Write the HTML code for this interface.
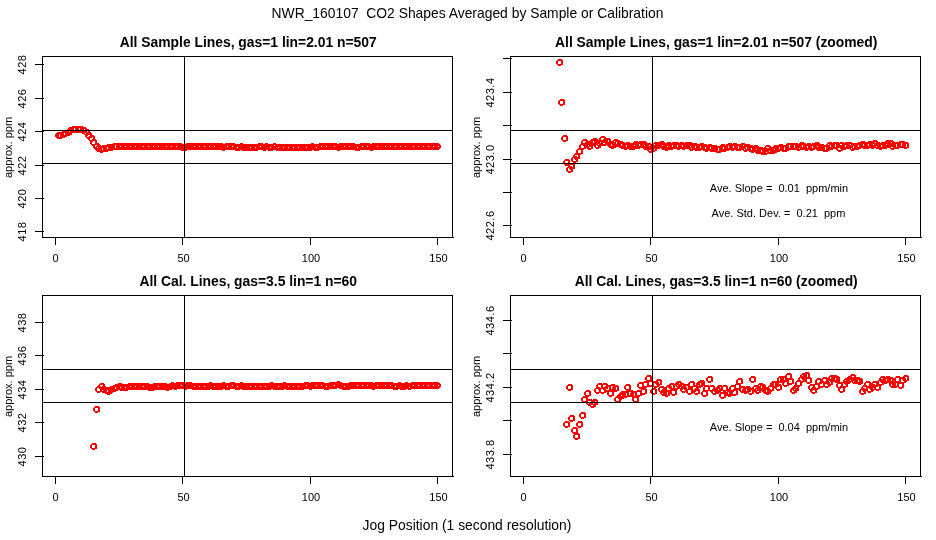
<!DOCTYPE html>
<html><head><meta charset="utf-8"><title>CO2 Shapes</title>
<style>
html,body{margin:0;padding:0;background:#fff;}
body{width:936px;height:540px;overflow:hidden;font-family:"Liberation Sans",sans-serif;}
svg{display:block;will-change:transform;}
text{font-family:"Liberation Sans",sans-serif;fill:#000;}
.ax{font-size:11px;}
.ti{font-size:13.86px;font-weight:bold;}
.mt{font-size:13.87px;}
.ry{letter-spacing:0.5px;}
.ln{shape-rendering:crispEdges;}
.pt{shape-rendering:crispEdges;}
</style></head><body>
<svg width="936" height="540" viewBox="0 0 936 540">
<rect width="936" height="540" fill="#fff"/>
<path class="pt" fill="#f00" d="M57 132h4v1h-4zm-1 1h6v1h-6zm-1 1h2v3h-2zm5 0h2v3h-2zm-4 3h6v1h-6zm1 1h3v1h-3zM59 132h4v1h-4zm-1 1h6v1h-6zm-1 1h2v3h-2zm5 0h2v3h-2zm-4 3h6v1h-6zm1 1h3v1h-3zM62 131h4v1h-4zm-1 1h6v1h-6zm-1 1h2v3h-2zm5 0h2v3h-2zm-4 3h6v1h-6zm1 1h3v1h-3zM64 130h4v1h-4zm-1 1h6v1h-6zm-1 1h2v3h-2zm5 0h2v3h-2zm-4 3h6v1h-6zm1 1h3v1h-3zM67 129h4v1h-4zm-1 1h6v1h-6zm-1 1h2v3h-2zm5 0h2v3h-2zm-4 3h6v1h-6zm1 1h3v1h-3zM69 127h4v1h-4zm-1 1h6v1h-6zm-1 1h2v3h-2zm5 0h2v3h-2zm-4 3h6v1h-6zm1 1h3v1h-3zM72 126h4v1h-4zm-1 1h6v1h-6zm-1 1h2v3h-2zm5 0h2v3h-2zm-4 3h6v1h-6zm1 1h3v1h-3zM74 126h4v1h-4zm-1 1h6v1h-6zm-1 1h2v3h-2zm5 0h2v3h-2zm-4 3h6v1h-6zm1 1h3v1h-3zM77 126h4v1h-4zm-1 1h6v1h-6zm-1 1h2v3h-2zm5 0h2v3h-2zm-4 3h6v1h-6zm1 1h3v1h-3zM79 126h4v1h-4zm-1 1h6v1h-6zm-1 1h2v3h-2zm5 0h2v3h-2zm-4 3h6v1h-6zm1 1h3v1h-3zM82 127h4v1h-4zm-1 1h6v1h-6zm-1 1h2v3h-2zm5 0h2v3h-2zm-4 3h6v1h-6zm1 1h3v1h-3zM85 129h4v1h-4zm-1 1h6v1h-6zm-1 1h2v3h-2zm5 0h2v3h-2zm-4 3h6v1h-6zm1 1h3v1h-3zM87 132h4v1h-4zm-1 1h6v1h-6zm-1 1h2v3h-2zm5 0h2v3h-2zm-4 3h6v1h-6zm1 1h3v1h-3zM90 135h4v1h-4zm-1 1h6v1h-6zm-1 1h2v3h-2zm5 0h2v3h-2zm-4 3h6v1h-6zm1 1h3v1h-3zM92 139h4v1h-4zm-1 1h6v1h-6zm-1 1h2v3h-2zm5 0h2v3h-2zm-4 3h6v1h-6zm1 1h3v1h-3zM95 143h4v1h-4zm-1 1h6v1h-6zm-1 1h2v3h-2zm5 0h2v3h-2zm-4 3h6v1h-6zm1 1h3v1h-3zM97 145h4v1h-4zm-1 1h6v1h-6zm-1 1h2v3h-2zm5 0h2v3h-2zm-4 3h6v1h-6zm1 1h3v1h-3zM100 146h4v1h-4zm-1 1h6v1h-6zm-1 1h2v3h-2zm5 0h2v3h-2zm-4 3h6v1h-6zm1 1h3v1h-3zM102 145h4v1h-4zm-1 1h6v1h-6zm-1 1h2v3h-2zm5 0h2v3h-2zm-4 3h6v1h-6zm1 1h3v1h-3zM105 145h4v1h-4zm-1 1h6v1h-6zm-1 1h2v3h-2zm5 0h2v3h-2zm-4 3h6v1h-6zm1 1h3v1h-3zM107 144h4v1h-4zm-1 1h6v1h-6zm-1 1h2v3h-2zm5 0h2v3h-2zm-4 3h6v1h-6zm1 1h3v1h-3zM110 144h4v1h-4zm-1 1h6v1h-6zm-1 1h2v3h-2zm5 0h2v3h-2zm-4 3h6v1h-6zm1 1h3v1h-3zM113 143h4v1h-4zm-1 1h6v1h-6zm-1 1h2v3h-2zm5 0h2v3h-2zm-4 3h6v1h-6zm1 1h3v1h-3zM115 143h4v1h-4zm-1 1h6v1h-6zm-1 1h2v3h-2zm5 0h2v3h-2zm-4 3h6v1h-6zm1 1h3v1h-3zM118 143h4v1h-4zm-1 1h6v1h-6zm-1 1h2v3h-2zm5 0h2v3h-2zm-4 3h6v1h-6zm1 1h3v1h-3zM120 143h3v1h-3zm-1 1h5v1h-5zm-1 1h3v1h-3zm4 0h3v1h-3zm-4 1h2v1h-2zm5 0h2v1h-2zm-5 1h3v1h-3zm4 0h3v1h-3zm-3 1h5v1h-5zm1 1h3v1h-3zM123 143h3v1h-3zm-1 1h5v1h-5zm-1 1h3v1h-3zm4 0h3v1h-3zm-4 1h2v1h-2zm5 0h2v1h-2zm-5 1h3v1h-3zm4 0h3v1h-3zm-3 1h5v1h-5zm1 1h3v1h-3zM125 143h3v1h-3zm-1 1h5v1h-5zm-1 1h3v1h-3zm4 0h3v1h-3zm-4 1h2v1h-2zm5 0h2v1h-2zm-5 1h3v1h-3zm4 0h3v1h-3zm-3 1h5v1h-5zm1 1h3v1h-3zM128 143h3v1h-3zm-1 1h5v1h-5zm-1 1h3v1h-3zm4 0h3v1h-3zm-4 1h2v1h-2zm5 0h2v1h-2zm-5 1h3v1h-3zm4 0h3v1h-3zm-3 1h5v1h-5zm1 1h3v1h-3zM130 143h3v1h-3zm-1 1h5v1h-5zm-1 1h3v1h-3zm4 0h3v1h-3zm-4 1h2v1h-2zm5 0h2v1h-2zm-5 1h3v1h-3zm4 0h3v1h-3zm-3 1h5v1h-5zm1 1h3v1h-3zM133 143h3v1h-3zm-1 1h5v1h-5zm-1 1h3v1h-3zm4 0h3v1h-3zm-4 1h2v1h-2zm5 0h2v1h-2zm-5 1h3v1h-3zm4 0h3v1h-3zm-3 1h5v1h-5zm1 1h3v1h-3zM135 143h3v1h-3zm-1 1h5v1h-5zm-1 1h3v1h-3zm4 0h3v1h-3zm-4 1h2v1h-2zm5 0h2v1h-2zm-5 1h3v1h-3zm4 0h3v1h-3zm-3 1h5v1h-5zm1 1h3v1h-3zM138 143h3v1h-3zm-1 1h5v1h-5zm-1 1h3v1h-3zm4 0h3v1h-3zm-4 1h2v1h-2zm5 0h2v1h-2zm-5 1h3v1h-3zm4 0h3v1h-3zm-3 1h5v1h-5zm1 1h3v1h-3zM141 143h3v1h-3zm-1 1h5v1h-5zm-1 1h3v1h-3zm4 0h3v1h-3zm-4 1h2v1h-2zm5 0h2v1h-2zm-5 1h3v1h-3zm4 0h3v1h-3zm-3 1h5v1h-5zm1 1h3v1h-3zM143 143h3v1h-3zm-1 1h5v1h-5zm-1 1h3v1h-3zm4 0h3v1h-3zm-4 1h2v1h-2zm5 0h2v1h-2zm-5 1h3v1h-3zm4 0h3v1h-3zm-3 1h5v1h-5zm1 1h3v1h-3zM146 143h3v1h-3zm-1 1h5v1h-5zm-1 1h3v1h-3zm4 0h3v1h-3zm-4 1h2v1h-2zm5 0h2v1h-2zm-5 1h3v1h-3zm4 0h3v1h-3zm-3 1h5v1h-5zm1 1h3v1h-3zM148 143h3v1h-3zm-1 1h5v1h-5zm-1 1h3v1h-3zm4 0h3v1h-3zm-4 1h2v1h-2zm5 0h2v1h-2zm-5 1h3v1h-3zm4 0h3v1h-3zm-3 1h5v1h-5zm1 1h3v1h-3zM151 143h3v1h-3zm-1 1h5v1h-5zm-1 1h3v1h-3zm4 0h3v1h-3zm-4 1h2v1h-2zm5 0h2v1h-2zm-5 1h3v1h-3zm4 0h3v1h-3zm-3 1h5v1h-5zm1 1h3v1h-3zM153 143h3v1h-3zm-1 1h5v1h-5zm-1 1h3v1h-3zm4 0h3v1h-3zm-4 1h2v1h-2zm5 0h2v1h-2zm-5 1h3v1h-3zm4 0h3v1h-3zm-3 1h5v1h-5zm1 1h3v1h-3zM156 143h3v1h-3zm-1 1h5v1h-5zm-1 1h3v1h-3zm4 0h3v1h-3zm-4 1h2v1h-2zm5 0h2v1h-2zm-5 1h3v1h-3zm4 0h3v1h-3zm-3 1h5v1h-5zm1 1h3v1h-3zM158 143h3v1h-3zm-1 1h5v1h-5zm-1 1h3v1h-3zm4 0h3v1h-3zm-4 1h2v1h-2zm5 0h2v1h-2zm-5 1h3v1h-3zm4 0h3v1h-3zm-3 1h5v1h-5zm1 1h3v1h-3zM161 143h3v1h-3zm-1 1h5v1h-5zm-1 1h3v1h-3zm4 0h3v1h-3zm-4 1h2v1h-2zm5 0h2v1h-2zm-5 1h3v1h-3zm4 0h3v1h-3zm-3 1h5v1h-5zm1 1h3v1h-3zM164 143h3v1h-3zm-1 1h5v1h-5zm-1 1h3v1h-3zm4 0h3v1h-3zm-4 1h2v1h-2zm5 0h2v1h-2zm-5 1h3v1h-3zm4 0h3v1h-3zm-3 1h5v1h-5zm1 1h3v1h-3zM166 143h3v1h-3zm-1 1h5v1h-5zm-1 1h3v1h-3zm4 0h3v1h-3zm-4 1h2v1h-2zm5 0h2v1h-2zm-5 1h3v1h-3zm4 0h3v1h-3zm-3 1h5v1h-5zm1 1h3v1h-3zM169 143h3v1h-3zm-1 1h5v1h-5zm-1 1h3v1h-3zm4 0h3v1h-3zm-4 1h2v1h-2zm5 0h2v1h-2zm-5 1h3v1h-3zm4 0h3v1h-3zm-3 1h5v1h-5zm1 1h3v1h-3zM171 143h3v1h-3zm-1 1h5v1h-5zm-1 1h3v1h-3zm4 0h3v1h-3zm-4 1h2v1h-2zm5 0h2v1h-2zm-5 1h3v1h-3zm4 0h3v1h-3zm-3 1h5v1h-5zm1 1h3v1h-3zM174 143h3v1h-3zm-1 1h5v1h-5zm-1 1h3v1h-3zm4 0h3v1h-3zm-4 1h2v1h-2zm5 0h2v1h-2zm-5 1h3v1h-3zm4 0h3v1h-3zm-3 1h5v1h-5zm1 1h3v1h-3zM176 143h3v1h-3zm-1 1h5v1h-5zm-1 1h3v1h-3zm4 0h3v1h-3zm-4 1h2v1h-2zm5 0h2v1h-2zm-5 1h3v1h-3zm4 0h3v1h-3zm-3 1h5v1h-5zm1 1h3v1h-3zM179 143h3v1h-3zm-1 1h5v1h-5zm-1 1h3v1h-3zm4 0h3v1h-3zm-4 1h2v1h-2zm5 0h2v1h-2zm-5 1h3v1h-3zm4 0h3v1h-3zm-3 1h5v1h-5zm1 1h3v1h-3zM181 144h3v1h-3zm-1 1h5v1h-5zm-1 1h3v1h-3zm4 0h3v1h-3zm-4 1h2v1h-2zm5 0h2v1h-2zm-5 1h3v1h-3zm4 0h3v1h-3zm-3 1h5v1h-5zm1 1h3v1h-3zM184 144h3v1h-3zm-1 1h5v1h-5zm-1 1h3v1h-3zm4 0h3v1h-3zm-4 1h2v1h-2zm5 0h2v1h-2zm-5 1h3v1h-3zm4 0h3v1h-3zm-3 1h5v1h-5zm1 1h3v1h-3zM186 143h3v1h-3zm-1 1h5v1h-5zm-1 1h3v1h-3zm4 0h3v1h-3zm-4 1h2v1h-2zm5 0h2v1h-2zm-5 1h3v1h-3zm4 0h3v1h-3zm-3 1h5v1h-5zm1 1h3v1h-3zM189 143h3v1h-3zm-1 1h5v1h-5zm-1 1h3v1h-3zm4 0h3v1h-3zm-4 1h2v1h-2zm5 0h2v1h-2zm-5 1h3v1h-3zm4 0h3v1h-3zm-3 1h5v1h-5zm1 1h3v1h-3zM192 143h3v1h-3zm-1 1h5v1h-5zm-1 1h3v1h-3zm4 0h3v1h-3zm-4 1h2v1h-2zm5 0h2v1h-2zm-5 1h3v1h-3zm4 0h3v1h-3zm-3 1h5v1h-5zm1 1h3v1h-3zM194 143h3v1h-3zm-1 1h5v1h-5zm-1 1h3v1h-3zm4 0h3v1h-3zm-4 1h2v1h-2zm5 0h2v1h-2zm-5 1h3v1h-3zm4 0h3v1h-3zm-3 1h5v1h-5zm1 1h3v1h-3zM197 143h3v1h-3zm-1 1h5v1h-5zm-1 1h3v1h-3zm4 0h3v1h-3zm-4 1h2v1h-2zm5 0h2v1h-2zm-5 1h3v1h-3zm4 0h3v1h-3zm-3 1h5v1h-5zm1 1h3v1h-3zM199 143h3v1h-3zm-1 1h5v1h-5zm-1 1h3v1h-3zm4 0h3v1h-3zm-4 1h2v1h-2zm5 0h2v1h-2zm-5 1h3v1h-3zm4 0h3v1h-3zm-3 1h5v1h-5zm1 1h3v1h-3zM202 143h3v1h-3zm-1 1h5v1h-5zm-1 1h3v1h-3zm4 0h3v1h-3zm-4 1h2v1h-2zm5 0h2v1h-2zm-5 1h3v1h-3zm4 0h3v1h-3zm-3 1h5v1h-5zm1 1h3v1h-3zM204 143h3v1h-3zm-1 1h5v1h-5zm-1 1h3v1h-3zm4 0h3v1h-3zm-4 1h2v1h-2zm5 0h2v1h-2zm-5 1h3v1h-3zm4 0h3v1h-3zm-3 1h5v1h-5zm1 1h3v1h-3zM207 143h3v1h-3zm-1 1h5v1h-5zm-1 1h3v1h-3zm4 0h3v1h-3zm-4 1h2v1h-2zm5 0h2v1h-2zm-5 1h3v1h-3zm4 0h3v1h-3zm-3 1h5v1h-5zm1 1h3v1h-3zM209 143h3v1h-3zm-1 1h5v1h-5zm-1 1h3v1h-3zm4 0h3v1h-3zm-4 1h2v1h-2zm5 0h2v1h-2zm-5 1h3v1h-3zm4 0h3v1h-3zm-3 1h5v1h-5zm1 1h3v1h-3zM212 143h3v1h-3zm-1 1h5v1h-5zm-1 1h3v1h-3zm4 0h3v1h-3zm-4 1h2v1h-2zm5 0h2v1h-2zm-5 1h3v1h-3zm4 0h3v1h-3zm-3 1h5v1h-5zm1 1h3v1h-3zM214 143h3v1h-3zm-1 1h5v1h-5zm-1 1h3v1h-3zm4 0h3v1h-3zm-4 1h2v1h-2zm5 0h2v1h-2zm-5 1h3v1h-3zm4 0h3v1h-3zm-3 1h5v1h-5zm1 1h3v1h-3zM217 143h3v1h-3zm-1 1h5v1h-5zm-1 1h3v1h-3zm4 0h3v1h-3zm-4 1h2v1h-2zm5 0h2v1h-2zm-5 1h3v1h-3zm4 0h3v1h-3zm-3 1h5v1h-5zm1 1h3v1h-3zM220 143h3v1h-3zm-1 1h5v1h-5zm-1 1h3v1h-3zm4 0h3v1h-3zm-4 1h2v1h-2zm5 0h2v1h-2zm-5 1h3v1h-3zm4 0h3v1h-3zm-3 1h5v1h-5zm1 1h3v1h-3zM222 144h3v1h-3zm-1 1h5v1h-5zm-1 1h3v1h-3zm4 0h3v1h-3zm-4 1h2v1h-2zm5 0h2v1h-2zm-5 1h3v1h-3zm4 0h3v1h-3zm-3 1h5v1h-5zm1 1h3v1h-3zM225 143h3v1h-3zm-1 1h5v1h-5zm-1 1h3v1h-3zm4 0h3v1h-3zm-4 1h2v1h-2zm5 0h2v1h-2zm-5 1h3v1h-3zm4 0h3v1h-3zm-3 1h5v1h-5zm1 1h3v1h-3zM227 143h3v1h-3zm-1 1h5v1h-5zm-1 1h3v1h-3zm4 0h3v1h-3zm-4 1h2v1h-2zm5 0h2v1h-2zm-5 1h3v1h-3zm4 0h3v1h-3zm-3 1h5v1h-5zm1 1h3v1h-3zM230 143h3v1h-3zm-1 1h5v1h-5zm-1 1h3v1h-3zm4 0h3v1h-3zm-4 1h2v1h-2zm5 0h2v1h-2zm-5 1h3v1h-3zm4 0h3v1h-3zm-3 1h5v1h-5zm1 1h3v1h-3zM232 143h3v1h-3zm-1 1h5v1h-5zm-1 1h3v1h-3zm4 0h3v1h-3zm-4 1h2v1h-2zm5 0h2v1h-2zm-5 1h3v1h-3zm4 0h3v1h-3zm-3 1h5v1h-5zm1 1h3v1h-3zM235 144h3v1h-3zm-1 1h5v1h-5zm-1 1h3v1h-3zm4 0h3v1h-3zm-4 1h2v1h-2zm5 0h2v1h-2zm-5 1h3v1h-3zm4 0h3v1h-3zm-3 1h5v1h-5zm1 1h3v1h-3zM237 144h3v1h-3zm-1 1h5v1h-5zm-1 1h3v1h-3zm4 0h3v1h-3zm-4 1h2v1h-2zm5 0h2v1h-2zm-5 1h3v1h-3zm4 0h3v1h-3zm-3 1h5v1h-5zm1 1h3v1h-3zM240 143h3v1h-3zm-1 1h5v1h-5zm-1 1h3v1h-3zm4 0h3v1h-3zm-4 1h2v1h-2zm5 0h2v1h-2zm-5 1h3v1h-3zm4 0h3v1h-3zm-3 1h5v1h-5zm1 1h3v1h-3zM242 144h3v1h-3zm-1 1h5v1h-5zm-1 1h3v1h-3zm4 0h3v1h-3zm-4 1h2v1h-2zm5 0h2v1h-2zm-5 1h3v1h-3zm4 0h3v1h-3zm-3 1h5v1h-5zm1 1h3v1h-3zM245 144h3v1h-3zm-1 1h5v1h-5zm-1 1h3v1h-3zm4 0h3v1h-3zm-4 1h2v1h-2zm5 0h2v1h-2zm-5 1h3v1h-3zm4 0h3v1h-3zm-3 1h5v1h-5zm1 1h3v1h-3zM248 144h3v1h-3zm-1 1h5v1h-5zm-1 1h3v1h-3zm4 0h3v1h-3zm-4 1h2v1h-2zm5 0h2v1h-2zm-5 1h3v1h-3zm4 0h3v1h-3zm-3 1h5v1h-5zm1 1h3v1h-3zM250 144h3v1h-3zm-1 1h5v1h-5zm-1 1h3v1h-3zm4 0h3v1h-3zm-4 1h2v1h-2zm5 0h2v1h-2zm-5 1h3v1h-3zm4 0h3v1h-3zm-3 1h5v1h-5zm1 1h3v1h-3zM253 144h3v1h-3zm-1 1h5v1h-5zm-1 1h3v1h-3zm4 0h3v1h-3zm-4 1h2v1h-2zm5 0h2v1h-2zm-5 1h3v1h-3zm4 0h3v1h-3zm-3 1h5v1h-5zm1 1h3v1h-3zM255 144h3v1h-3zm-1 1h5v1h-5zm-1 1h3v1h-3zm4 0h3v1h-3zm-4 1h2v1h-2zm5 0h2v1h-2zm-5 1h3v1h-3zm4 0h3v1h-3zm-3 1h5v1h-5zm1 1h3v1h-3zM258 143h3v1h-3zm-1 1h5v1h-5zm-1 1h3v1h-3zm4 0h3v1h-3zm-4 1h2v1h-2zm5 0h2v1h-2zm-5 1h3v1h-3zm4 0h3v1h-3zm-3 1h5v1h-5zm1 1h3v1h-3zM260 143h3v1h-3zm-1 1h5v1h-5zm-1 1h3v1h-3zm4 0h3v1h-3zm-4 1h2v1h-2zm5 0h2v1h-2zm-5 1h3v1h-3zm4 0h3v1h-3zm-3 1h5v1h-5zm1 1h3v1h-3zM263 144h3v1h-3zm-1 1h5v1h-5zm-1 1h3v1h-3zm4 0h3v1h-3zm-4 1h2v1h-2zm5 0h2v1h-2zm-5 1h3v1h-3zm4 0h3v1h-3zm-3 1h5v1h-5zm1 1h3v1h-3zM265 143h3v1h-3zm-1 1h5v1h-5zm-1 1h3v1h-3zm4 0h3v1h-3zm-4 1h2v1h-2zm5 0h2v1h-2zm-5 1h3v1h-3zm4 0h3v1h-3zm-3 1h5v1h-5zm1 1h3v1h-3zM268 144h3v1h-3zm-1 1h5v1h-5zm-1 1h3v1h-3zm4 0h3v1h-3zm-4 1h2v1h-2zm5 0h2v1h-2zm-5 1h3v1h-3zm4 0h3v1h-3zm-3 1h5v1h-5zm1 1h3v1h-3zM270 144h3v1h-3zm-1 1h5v1h-5zm-1 1h3v1h-3zm4 0h3v1h-3zm-4 1h2v1h-2zm5 0h2v1h-2zm-5 1h3v1h-3zm4 0h3v1h-3zm-3 1h5v1h-5zm1 1h3v1h-3zM273 143h3v1h-3zm-1 1h5v1h-5zm-1 1h3v1h-3zm4 0h3v1h-3zm-4 1h2v1h-2zm5 0h2v1h-2zm-5 1h3v1h-3zm4 0h3v1h-3zm-3 1h5v1h-5zm1 1h3v1h-3zM276 144h3v1h-3zm-1 1h5v1h-5zm-1 1h3v1h-3zm4 0h3v1h-3zm-4 1h2v1h-2zm5 0h2v1h-2zm-5 1h3v1h-3zm4 0h3v1h-3zm-3 1h5v1h-5zm1 1h3v1h-3zM278 144h3v1h-3zm-1 1h5v1h-5zm-1 1h3v1h-3zm4 0h3v1h-3zm-4 1h2v1h-2zm5 0h2v1h-2zm-5 1h3v1h-3zm4 0h3v1h-3zm-3 1h5v1h-5zm1 1h3v1h-3zM281 144h3v1h-3zm-1 1h5v1h-5zm-1 1h3v1h-3zm4 0h3v1h-3zm-4 1h2v1h-2zm5 0h2v1h-2zm-5 1h3v1h-3zm4 0h3v1h-3zm-3 1h5v1h-5zm1 1h3v1h-3zM283 144h3v1h-3zm-1 1h5v1h-5zm-1 1h3v1h-3zm4 0h3v1h-3zm-4 1h2v1h-2zm5 0h2v1h-2zm-5 1h3v1h-3zm4 0h3v1h-3zm-3 1h5v1h-5zm1 1h3v1h-3zM286 144h3v1h-3zm-1 1h5v1h-5zm-1 1h3v1h-3zm4 0h3v1h-3zm-4 1h2v1h-2zm5 0h2v1h-2zm-5 1h3v1h-3zm4 0h3v1h-3zm-3 1h5v1h-5zm1 1h3v1h-3zM288 144h3v1h-3zm-1 1h5v1h-5zm-1 1h3v1h-3zm4 0h3v1h-3zm-4 1h2v1h-2zm5 0h2v1h-2zm-5 1h3v1h-3zm4 0h3v1h-3zm-3 1h5v1h-5zm1 1h3v1h-3zM291 144h3v1h-3zm-1 1h5v1h-5zm-1 1h3v1h-3zm4 0h3v1h-3zm-4 1h2v1h-2zm5 0h2v1h-2zm-5 1h3v1h-3zm4 0h3v1h-3zm-3 1h5v1h-5zm1 1h3v1h-3zM293 144h3v1h-3zm-1 1h5v1h-5zm-1 1h3v1h-3zm4 0h3v1h-3zm-4 1h2v1h-2zm5 0h2v1h-2zm-5 1h3v1h-3zm4 0h3v1h-3zm-3 1h5v1h-5zm1 1h3v1h-3zM296 144h3v1h-3zm-1 1h5v1h-5zm-1 1h3v1h-3zm4 0h3v1h-3zm-4 1h2v1h-2zm5 0h2v1h-2zm-5 1h3v1h-3zm4 0h3v1h-3zm-3 1h5v1h-5zm1 1h3v1h-3zM298 144h3v1h-3zm-1 1h5v1h-5zm-1 1h3v1h-3zm4 0h3v1h-3zm-4 1h2v1h-2zm5 0h2v1h-2zm-5 1h3v1h-3zm4 0h3v1h-3zm-3 1h5v1h-5zm1 1h3v1h-3zM301 144h3v1h-3zm-1 1h5v1h-5zm-1 1h3v1h-3zm4 0h3v1h-3zm-4 1h2v1h-2zm5 0h2v1h-2zm-5 1h3v1h-3zm4 0h3v1h-3zm-3 1h5v1h-5zm1 1h3v1h-3zM304 144h3v1h-3zm-1 1h5v1h-5zm-1 1h3v1h-3zm4 0h3v1h-3zm-4 1h2v1h-2zm5 0h2v1h-2zm-5 1h3v1h-3zm4 0h3v1h-3zm-3 1h5v1h-5zm1 1h3v1h-3zM306 144h3v1h-3zm-1 1h5v1h-5zm-1 1h3v1h-3zm4 0h3v1h-3zm-4 1h2v1h-2zm5 0h2v1h-2zm-5 1h3v1h-3zm4 0h3v1h-3zm-3 1h5v1h-5zm1 1h3v1h-3zM309 144h3v1h-3zm-1 1h5v1h-5zm-1 1h3v1h-3zm4 0h3v1h-3zm-4 1h2v1h-2zm5 0h2v1h-2zm-5 1h3v1h-3zm4 0h3v1h-3zm-3 1h5v1h-5zm1 1h3v1h-3zM311 143h3v1h-3zm-1 1h5v1h-5zm-1 1h3v1h-3zm4 0h3v1h-3zm-4 1h2v1h-2zm5 0h2v1h-2zm-5 1h3v1h-3zm4 0h3v1h-3zm-3 1h5v1h-5zm1 1h3v1h-3zM314 144h3v1h-3zm-1 1h5v1h-5zm-1 1h3v1h-3zm4 0h3v1h-3zm-4 1h2v1h-2zm5 0h2v1h-2zm-5 1h3v1h-3zm4 0h3v1h-3zm-3 1h5v1h-5zm1 1h3v1h-3zM316 144h3v1h-3zm-1 1h5v1h-5zm-1 1h3v1h-3zm4 0h3v1h-3zm-4 1h2v1h-2zm5 0h2v1h-2zm-5 1h3v1h-3zm4 0h3v1h-3zm-3 1h5v1h-5zm1 1h3v1h-3zM319 143h3v1h-3zm-1 1h5v1h-5zm-1 1h3v1h-3zm4 0h3v1h-3zm-4 1h2v1h-2zm5 0h2v1h-2zm-5 1h3v1h-3zm4 0h3v1h-3zm-3 1h5v1h-5zm1 1h3v1h-3zM321 143h3v1h-3zm-1 1h5v1h-5zm-1 1h3v1h-3zm4 0h3v1h-3zm-4 1h2v1h-2zm5 0h2v1h-2zm-5 1h3v1h-3zm4 0h3v1h-3zm-3 1h5v1h-5zm1 1h3v1h-3zM324 143h3v1h-3zm-1 1h5v1h-5zm-1 1h3v1h-3zm4 0h3v1h-3zm-4 1h2v1h-2zm5 0h2v1h-2zm-5 1h3v1h-3zm4 0h3v1h-3zm-3 1h5v1h-5zm1 1h3v1h-3zM326 143h3v1h-3zm-1 1h5v1h-5zm-1 1h3v1h-3zm4 0h3v1h-3zm-4 1h2v1h-2zm5 0h2v1h-2zm-5 1h3v1h-3zm4 0h3v1h-3zm-3 1h5v1h-5zm1 1h3v1h-3zM329 143h3v1h-3zm-1 1h5v1h-5zm-1 1h3v1h-3zm4 0h3v1h-3zm-4 1h2v1h-2zm5 0h2v1h-2zm-5 1h3v1h-3zm4 0h3v1h-3zm-3 1h5v1h-5zm1 1h3v1h-3zM332 143h3v1h-3zm-1 1h5v1h-5zm-1 1h3v1h-3zm4 0h3v1h-3zm-4 1h2v1h-2zm5 0h2v1h-2zm-5 1h3v1h-3zm4 0h3v1h-3zm-3 1h5v1h-5zm1 1h3v1h-3zM334 143h3v1h-3zm-1 1h5v1h-5zm-1 1h3v1h-3zm4 0h3v1h-3zm-4 1h2v1h-2zm5 0h2v1h-2zm-5 1h3v1h-3zm4 0h3v1h-3zm-3 1h5v1h-5zm1 1h3v1h-3zM337 144h3v1h-3zm-1 1h5v1h-5zm-1 1h3v1h-3zm4 0h3v1h-3zm-4 1h2v1h-2zm5 0h2v1h-2zm-5 1h3v1h-3zm4 0h3v1h-3zm-3 1h5v1h-5zm1 1h3v1h-3zM339 143h3v1h-3zm-1 1h5v1h-5zm-1 1h3v1h-3zm4 0h3v1h-3zm-4 1h2v1h-2zm5 0h2v1h-2zm-5 1h3v1h-3zm4 0h3v1h-3zm-3 1h5v1h-5zm1 1h3v1h-3zM342 143h3v1h-3zm-1 1h5v1h-5zm-1 1h3v1h-3zm4 0h3v1h-3zm-4 1h2v1h-2zm5 0h2v1h-2zm-5 1h3v1h-3zm4 0h3v1h-3zm-3 1h5v1h-5zm1 1h3v1h-3zM344 143h3v1h-3zm-1 1h5v1h-5zm-1 1h3v1h-3zm4 0h3v1h-3zm-4 1h2v1h-2zm5 0h2v1h-2zm-5 1h3v1h-3zm4 0h3v1h-3zm-3 1h5v1h-5zm1 1h3v1h-3zM347 143h3v1h-3zm-1 1h5v1h-5zm-1 1h3v1h-3zm4 0h3v1h-3zm-4 1h2v1h-2zm5 0h2v1h-2zm-5 1h3v1h-3zm4 0h3v1h-3zm-3 1h5v1h-5zm1 1h3v1h-3zM349 143h3v1h-3zm-1 1h5v1h-5zm-1 1h3v1h-3zm4 0h3v1h-3zm-4 1h2v1h-2zm5 0h2v1h-2zm-5 1h3v1h-3zm4 0h3v1h-3zm-3 1h5v1h-5zm1 1h3v1h-3zM352 143h3v1h-3zm-1 1h5v1h-5zm-1 1h3v1h-3zm4 0h3v1h-3zm-4 1h2v1h-2zm5 0h2v1h-2zm-5 1h3v1h-3zm4 0h3v1h-3zm-3 1h5v1h-5zm1 1h3v1h-3zM355 144h3v1h-3zm-1 1h5v1h-5zm-1 1h3v1h-3zm4 0h3v1h-3zm-4 1h2v1h-2zm5 0h2v1h-2zm-5 1h3v1h-3zm4 0h3v1h-3zm-3 1h5v1h-5zm1 1h3v1h-3zM357 144h3v1h-3zm-1 1h5v1h-5zm-1 1h3v1h-3zm4 0h3v1h-3zm-4 1h2v1h-2zm5 0h2v1h-2zm-5 1h3v1h-3zm4 0h3v1h-3zm-3 1h5v1h-5zm1 1h3v1h-3zM360 143h3v1h-3zm-1 1h5v1h-5zm-1 1h3v1h-3zm4 0h3v1h-3zm-4 1h2v1h-2zm5 0h2v1h-2zm-5 1h3v1h-3zm4 0h3v1h-3zm-3 1h5v1h-5zm1 1h3v1h-3zM362 143h3v1h-3zm-1 1h5v1h-5zm-1 1h3v1h-3zm4 0h3v1h-3zm-4 1h2v1h-2zm5 0h2v1h-2zm-5 1h3v1h-3zm4 0h3v1h-3zm-3 1h5v1h-5zm1 1h3v1h-3zM365 143h3v1h-3zm-1 1h5v1h-5zm-1 1h3v1h-3zm4 0h3v1h-3zm-4 1h2v1h-2zm5 0h2v1h-2zm-5 1h3v1h-3zm4 0h3v1h-3zm-3 1h5v1h-5zm1 1h3v1h-3zM367 143h3v1h-3zm-1 1h5v1h-5zm-1 1h3v1h-3zm4 0h3v1h-3zm-4 1h2v1h-2zm5 0h2v1h-2zm-5 1h3v1h-3zm4 0h3v1h-3zm-3 1h5v1h-5zm1 1h3v1h-3zM370 144h3v1h-3zm-1 1h5v1h-5zm-1 1h3v1h-3zm4 0h3v1h-3zm-4 1h2v1h-2zm5 0h2v1h-2zm-5 1h3v1h-3zm4 0h3v1h-3zm-3 1h5v1h-5zm1 1h3v1h-3zM372 143h3v1h-3zm-1 1h5v1h-5zm-1 1h3v1h-3zm4 0h3v1h-3zm-4 1h2v1h-2zm5 0h2v1h-2zm-5 1h3v1h-3zm4 0h3v1h-3zm-3 1h5v1h-5zm1 1h3v1h-3zM375 143h3v1h-3zm-1 1h5v1h-5zm-1 1h3v1h-3zm4 0h3v1h-3zm-4 1h2v1h-2zm5 0h2v1h-2zm-5 1h3v1h-3zm4 0h3v1h-3zm-3 1h5v1h-5zm1 1h3v1h-3zM377 143h3v1h-3zm-1 1h5v1h-5zm-1 1h3v1h-3zm4 0h3v1h-3zm-4 1h2v1h-2zm5 0h2v1h-2zm-5 1h3v1h-3zm4 0h3v1h-3zm-3 1h5v1h-5zm1 1h3v1h-3zM380 143h3v1h-3zm-1 1h5v1h-5zm-1 1h3v1h-3zm4 0h3v1h-3zm-4 1h2v1h-2zm5 0h2v1h-2zm-5 1h3v1h-3zm4 0h3v1h-3zm-3 1h5v1h-5zm1 1h3v1h-3zM383 143h3v1h-3zm-1 1h5v1h-5zm-1 1h3v1h-3zm4 0h3v1h-3zm-4 1h2v1h-2zm5 0h2v1h-2zm-5 1h3v1h-3zm4 0h3v1h-3zm-3 1h5v1h-5zm1 1h3v1h-3zM385 143h3v1h-3zm-1 1h5v1h-5zm-1 1h3v1h-3zm4 0h3v1h-3zm-4 1h2v1h-2zm5 0h2v1h-2zm-5 1h3v1h-3zm4 0h3v1h-3zm-3 1h5v1h-5zm1 1h3v1h-3zM388 143h3v1h-3zm-1 1h5v1h-5zm-1 1h3v1h-3zm4 0h3v1h-3zm-4 1h2v1h-2zm5 0h2v1h-2zm-5 1h3v1h-3zm4 0h3v1h-3zm-3 1h5v1h-5zm1 1h3v1h-3zM390 143h3v1h-3zm-1 1h5v1h-5zm-1 1h3v1h-3zm4 0h3v1h-3zm-4 1h2v1h-2zm5 0h2v1h-2zm-5 1h3v1h-3zm4 0h3v1h-3zm-3 1h5v1h-5zm1 1h3v1h-3zM393 143h3v1h-3zm-1 1h5v1h-5zm-1 1h3v1h-3zm4 0h3v1h-3zm-4 1h2v1h-2zm5 0h2v1h-2zm-5 1h3v1h-3zm4 0h3v1h-3zm-3 1h5v1h-5zm1 1h3v1h-3zM395 143h3v1h-3zm-1 1h5v1h-5zm-1 1h3v1h-3zm4 0h3v1h-3zm-4 1h2v1h-2zm5 0h2v1h-2zm-5 1h3v1h-3zm4 0h3v1h-3zm-3 1h5v1h-5zm1 1h3v1h-3zM398 143h3v1h-3zm-1 1h5v1h-5zm-1 1h3v1h-3zm4 0h3v1h-3zm-4 1h2v1h-2zm5 0h2v1h-2zm-5 1h3v1h-3zm4 0h3v1h-3zm-3 1h5v1h-5zm1 1h3v1h-3zM400 143h3v1h-3zm-1 1h5v1h-5zm-1 1h3v1h-3zm4 0h3v1h-3zm-4 1h2v1h-2zm5 0h2v1h-2zm-5 1h3v1h-3zm4 0h3v1h-3zm-3 1h5v1h-5zm1 1h3v1h-3zM403 143h3v1h-3zm-1 1h5v1h-5zm-1 1h3v1h-3zm4 0h3v1h-3zm-4 1h2v1h-2zm5 0h2v1h-2zm-5 1h3v1h-3zm4 0h3v1h-3zm-3 1h5v1h-5zm1 1h3v1h-3zM405 143h3v1h-3zm-1 1h5v1h-5zm-1 1h3v1h-3zm4 0h3v1h-3zm-4 1h2v1h-2zm5 0h2v1h-2zm-5 1h3v1h-3zm4 0h3v1h-3zm-3 1h5v1h-5zm1 1h3v1h-3zM408 143h3v1h-3zm-1 1h5v1h-5zm-1 1h3v1h-3zm4 0h3v1h-3zm-4 1h2v1h-2zm5 0h2v1h-2zm-5 1h3v1h-3zm4 0h3v1h-3zm-3 1h5v1h-5zm1 1h3v1h-3zM411 143h3v1h-3zm-1 1h5v1h-5zm-1 1h3v1h-3zm4 0h3v1h-3zm-4 1h2v1h-2zm5 0h2v1h-2zm-5 1h3v1h-3zm4 0h3v1h-3zm-3 1h5v1h-5zm1 1h3v1h-3zM413 143h3v1h-3zm-1 1h5v1h-5zm-1 1h3v1h-3zm4 0h3v1h-3zm-4 1h2v1h-2zm5 0h2v1h-2zm-5 1h3v1h-3zm4 0h3v1h-3zm-3 1h5v1h-5zm1 1h3v1h-3zM416 143h3v1h-3zm-1 1h5v1h-5zm-1 1h3v1h-3zm4 0h3v1h-3zm-4 1h2v1h-2zm5 0h2v1h-2zm-5 1h3v1h-3zm4 0h3v1h-3zm-3 1h5v1h-5zm1 1h3v1h-3zM418 143h3v1h-3zm-1 1h5v1h-5zm-1 1h3v1h-3zm4 0h3v1h-3zm-4 1h2v1h-2zm5 0h2v1h-2zm-5 1h3v1h-3zm4 0h3v1h-3zm-3 1h5v1h-5zm1 1h3v1h-3zM421 143h3v1h-3zm-1 1h5v1h-5zm-1 1h3v1h-3zm4 0h3v1h-3zm-4 1h2v1h-2zm5 0h2v1h-2zm-5 1h3v1h-3zm4 0h3v1h-3zm-3 1h5v1h-5zm1 1h3v1h-3zM423 143h3v1h-3zm-1 1h5v1h-5zm-1 1h3v1h-3zm4 0h3v1h-3zm-4 1h2v1h-2zm5 0h2v1h-2zm-5 1h3v1h-3zm4 0h3v1h-3zm-3 1h5v1h-5zm1 1h3v1h-3zM426 143h3v1h-3zm-1 1h5v1h-5zm-1 1h3v1h-3zm4 0h3v1h-3zm-4 1h2v1h-2zm5 0h2v1h-2zm-5 1h3v1h-3zm4 0h3v1h-3zm-3 1h5v1h-5zm1 1h3v1h-3zM428 143h3v1h-3zm-1 1h5v1h-5zm-1 1h3v1h-3zm4 0h3v1h-3zm-4 1h2v1h-2zm5 0h2v1h-2zm-5 1h3v1h-3zm4 0h3v1h-3zm-3 1h5v1h-5zm1 1h3v1h-3zM431 143h3v1h-3zm-1 1h5v1h-5zm-1 1h3v1h-3zm4 0h3v1h-3zm-4 1h2v1h-2zm5 0h2v1h-2zm-5 1h3v1h-3zm4 0h3v1h-3zm-3 1h5v1h-5zm1 1h3v1h-3zM433 143h3v1h-3zm-1 1h5v1h-5zm-1 1h3v1h-3zm4 0h3v1h-3zm-4 1h2v1h-2zm5 0h2v1h-2zm-5 1h3v1h-3zm4 0h3v1h-3zm-3 1h5v1h-5zm1 1h3v1h-3zM436 143h3v1h-3zm-1 1h5v1h-5zm-1 1h3v1h-3zm4 0h3v1h-3zm-4 1h2v1h-2zm5 0h2v1h-2zm-5 1h3v1h-3zm4 0h3v1h-3zm-3 1h5v1h-5zm1 1h3v1h-3z"/>
<g class="ln">
<rect x="42.5" y="56.5" width="410" height="181" fill="none" stroke="#000" stroke-width="1"/>
<rect x="55" y="237" width="1" height="8" fill="#000"/>
<rect x="182" y="237" width="1" height="8" fill="#000"/>
<rect x="310" y="237" width="1" height="8" fill="#000"/>
<rect x="437" y="237" width="1" height="8" fill="#000"/>
<rect x="35" y="64" width="9" height="1" fill="#000"/>
<rect x="35" y="98" width="9" height="1" fill="#000"/>
<rect x="35" y="131" width="9" height="1" fill="#000"/>
<rect x="35" y="165" width="9" height="1" fill="#000"/>
<rect x="35" y="198" width="9" height="1" fill="#000"/>
<rect x="35" y="231" width="9" height="1" fill="#000"/>
<rect x="453" y="237" width="1" height="1" fill="#000"/>
<rect x="42" y="130" width="410" height="1" fill="#000"/>
<rect x="42" y="163" width="410" height="1" fill="#000"/>
<rect x="184" y="56" width="1" height="181" fill="#000"/>
</g>
<text x="55.5" y="262" class="ax" text-anchor="middle">0</text>
<text x="183.5" y="262" class="ax" text-anchor="middle">50</text>
<text x="311.0" y="262" class="ax" text-anchor="middle">100</text>
<text x="438.5" y="262" class="ax" text-anchor="middle">150</text>
<text transform="translate(26,64.5) rotate(-90)" class="ax ry" text-anchor="middle">428</text>
<text transform="translate(26,98.5) rotate(-90)" class="ax ry" text-anchor="middle">426</text>
<text transform="translate(26,131.5) rotate(-90)" class="ax ry" text-anchor="middle">424</text>
<text transform="translate(26,165.5) rotate(-90)" class="ax ry" text-anchor="middle">422</text>
<text transform="translate(26,198.5) rotate(-90)" class="ax ry" text-anchor="middle">420</text>
<text transform="translate(26,231.5) rotate(-90)" class="ax ry" text-anchor="middle">418</text>
<text transform="translate(12,147.5) rotate(-90)" class="ax" text-anchor="middle">approx. ppm</text>
<text x="248.2" y="47" class="ti" text-anchor="middle">All Sample Lines, gas=1 lin=2.01 n=507</text>
<path class="pt" fill="#f00" d="M558 59h4v1h-4zm-1 1h6v1h-6zm-1 1h2v3h-2zm5 0h2v3h-2zm-4 3h6v1h-6zm1 1h3v1h-3zM560 99h4v1h-4zm-1 1h6v1h-6zm-1 1h2v3h-2zm5 0h2v3h-2zm-4 3h6v1h-6zm1 1h3v1h-3zM563 135h4v1h-4zm-1 1h6v1h-6zm-1 1h2v3h-2zm5 0h2v3h-2zm-4 3h6v1h-6zm1 1h3v1h-3zM565 159h4v1h-4zm-1 1h6v1h-6zm-1 1h2v3h-2zm5 0h2v3h-2zm-4 3h6v1h-6zm1 1h3v1h-3zM568 166h4v1h-4zm-1 1h6v1h-6zm-1 1h2v3h-2zm5 0h2v3h-2zm-4 3h6v1h-6zm1 1h3v1h-3zM570 163h4v1h-4zm-1 1h6v1h-6zm-1 1h2v3h-2zm5 0h2v3h-2zm-4 3h6v1h-6zm1 1h3v1h-3zM573 156h4v1h-4zm-1 1h6v1h-6zm-1 1h2v3h-2zm5 0h2v3h-2zm-4 3h6v1h-6zm1 1h3v1h-3zM575 153h4v1h-4zm-1 1h6v1h-6zm-1 1h2v3h-2zm5 0h2v3h-2zm-4 3h6v1h-6zm1 1h3v1h-3zM578 148h4v1h-4zm-1 1h6v1h-6zm-1 1h2v3h-2zm5 0h2v3h-2zm-4 3h6v1h-6zm1 1h3v1h-3zM581 143h4v1h-4zm-1 1h6v1h-6zm-1 1h2v3h-2zm5 0h2v3h-2zm-4 3h6v1h-6zm1 1h3v1h-3zM583 139h4v1h-4zm-1 1h6v1h-6zm-1 1h2v3h-2zm5 0h2v3h-2zm-4 3h6v1h-6zm1 1h3v1h-3zM586 141h4v1h-4zm-1 1h6v1h-6zm-1 1h2v3h-2zm5 0h2v3h-2zm-4 3h6v1h-6zm1 1h3v1h-3zM588 143h4v1h-4zm-1 1h6v1h-6zm-1 1h2v3h-2zm5 0h2v3h-2zm-4 3h6v1h-6zm1 1h3v1h-3zM591 139h4v1h-4zm-1 1h6v1h-6zm-1 1h2v3h-2zm5 0h2v3h-2zm-4 3h6v1h-6zm1 1h3v1h-3zM593 138h4v1h-4zm-1 1h6v1h-6zm-1 1h2v3h-2zm5 0h2v3h-2zm-4 3h6v1h-6zm1 1h3v1h-3zM596 142h4v1h-4zm-1 1h6v1h-6zm-1 1h2v3h-2zm5 0h2v3h-2zm-4 3h6v1h-6zm1 1h3v1h-3zM598 140h4v1h-4zm-1 1h6v1h-6zm-1 1h2v3h-2zm5 0h2v3h-2zm-4 3h6v1h-6zm1 1h3v1h-3zM601 136h4v1h-4zm-1 1h6v1h-6zm-1 1h2v3h-2zm5 0h2v3h-2zm-4 3h6v1h-6zm1 1h3v1h-3zM603 139h4v1h-4zm-1 1h6v1h-6zm-1 1h2v3h-2zm5 0h2v3h-2zm-4 3h6v1h-6zm1 1h3v1h-3zM606 138h4v1h-4zm-1 1h6v1h-6zm-1 1h2v3h-2zm5 0h2v3h-2zm-4 3h6v1h-6zm1 1h3v1h-3zM609 141h4v1h-4zm-1 1h6v1h-6zm-1 1h2v3h-2zm5 0h2v3h-2zm-4 3h6v1h-6zm1 1h3v1h-3zM611 142h4v1h-4zm-1 1h6v1h-6zm-1 1h2v3h-2zm5 0h2v3h-2zm-4 3h6v1h-6zm1 1h3v1h-3zM614 139h4v1h-4zm-1 1h6v1h-6zm-1 1h2v3h-2zm5 0h2v3h-2zm-4 3h6v1h-6zm1 1h3v1h-3zM616 140h4v1h-4zm-1 1h6v1h-6zm-1 1h2v3h-2zm5 0h2v3h-2zm-4 3h6v1h-6zm1 1h3v1h-3zM619 141h4v1h-4zm-1 1h6v1h-6zm-1 1h2v3h-2zm5 0h2v3h-2zm-4 3h6v1h-6zm1 1h3v1h-3zM621 142h4v1h-4zm-1 1h6v1h-6zm-1 1h2v3h-2zm5 0h2v3h-2zm-4 3h6v1h-6zm1 1h3v1h-3zM624 143h4v1h-4zm-1 1h6v1h-6zm-1 1h2v3h-2zm5 0h2v3h-2zm-4 3h6v1h-6zm1 1h3v1h-3zM626 142h4v1h-4zm-1 1h6v1h-6zm-1 1h2v3h-2zm5 0h2v3h-2zm-4 3h6v1h-6zm1 1h3v1h-3zM629 143h4v1h-4zm-1 1h6v1h-6zm-1 1h2v3h-2zm5 0h2v3h-2zm-4 3h6v1h-6zm1 1h3v1h-3zM632 143h4v1h-4zm-1 1h6v1h-6zm-1 1h2v3h-2zm5 0h2v3h-2zm-4 3h6v1h-6zm1 1h3v1h-3zM634 141h4v1h-4zm-1 1h6v1h-6zm-1 1h2v3h-2zm5 0h2v3h-2zm-4 3h6v1h-6zm1 1h3v1h-3zM637 142h4v1h-4zm-1 1h6v1h-6zm-1 1h2v3h-2zm5 0h2v3h-2zm-4 3h6v1h-6zm1 1h3v1h-3zM639 141h4v1h-4zm-1 1h6v1h-6zm-1 1h2v3h-2zm5 0h2v3h-2zm-4 3h6v1h-6zm1 1h3v1h-3zM642 141h4v1h-4zm-1 1h6v1h-6zm-1 1h2v3h-2zm5 0h2v3h-2zm-4 3h6v1h-6zm1 1h3v1h-3zM644 143h4v1h-4zm-1 1h6v1h-6zm-1 1h2v3h-2zm5 0h2v3h-2zm-4 3h6v1h-6zm1 1h3v1h-3zM647 143h4v1h-4zm-1 1h6v1h-6zm-1 1h2v3h-2zm5 0h2v3h-2zm-4 3h6v1h-6zm1 1h3v1h-3zM649 146h4v1h-4zm-1 1h6v1h-6zm-1 1h2v3h-2zm5 0h2v3h-2zm-4 3h6v1h-6zm1 1h3v1h-3zM652 145h4v1h-4zm-1 1h6v1h-6zm-1 1h2v3h-2zm5 0h2v3h-2zm-4 3h6v1h-6zm1 1h3v1h-3zM654 142h4v1h-4zm-1 1h6v1h-6zm-1 1h2v3h-2zm5 0h2v3h-2zm-4 3h6v1h-6zm1 1h3v1h-3zM657 142h4v1h-4zm-1 1h6v1h-6zm-1 1h2v3h-2zm5 0h2v3h-2zm-4 3h6v1h-6zm1 1h3v1h-3zM660 141h4v1h-4zm-1 1h6v1h-6zm-1 1h2v3h-2zm5 0h2v3h-2zm-4 3h6v1h-6zm1 1h3v1h-3zM662 143h4v1h-4zm-1 1h6v1h-6zm-1 1h2v3h-2zm5 0h2v3h-2zm-4 3h6v1h-6zm1 1h3v1h-3zM665 144h4v1h-4zm-1 1h6v1h-6zm-1 1h2v3h-2zm5 0h2v3h-2zm-4 3h6v1h-6zm1 1h3v1h-3zM667 142h4v1h-4zm-1 1h6v1h-6zm-1 1h2v3h-2zm5 0h2v3h-2zm-4 3h6v1h-6zm1 1h3v1h-3zM670 143h4v1h-4zm-1 1h6v1h-6zm-1 1h2v3h-2zm5 0h2v3h-2zm-4 3h6v1h-6zm1 1h3v1h-3zM672 142h4v1h-4zm-1 1h6v1h-6zm-1 1h2v3h-2zm5 0h2v3h-2zm-4 3h6v1h-6zm1 1h3v1h-3zM675 142h4v1h-4zm-1 1h6v1h-6zm-1 1h2v3h-2zm5 0h2v3h-2zm-4 3h6v1h-6zm1 1h3v1h-3zM677 143h4v1h-4zm-1 1h6v1h-6zm-1 1h2v3h-2zm5 0h2v3h-2zm-4 3h6v1h-6zm1 1h3v1h-3zM680 142h4v1h-4zm-1 1h6v1h-6zm-1 1h2v3h-2zm5 0h2v3h-2zm-4 3h6v1h-6zm1 1h3v1h-3zM682 143h4v1h-4zm-1 1h6v1h-6zm-1 1h2v3h-2zm5 0h2v3h-2zm-4 3h6v1h-6zm1 1h3v1h-3zM685 142h4v1h-4zm-1 1h6v1h-6zm-1 1h2v3h-2zm5 0h2v3h-2zm-4 3h6v1h-6zm1 1h3v1h-3zM688 142h4v1h-4zm-1 1h6v1h-6zm-1 1h2v3h-2zm5 0h2v3h-2zm-4 3h6v1h-6zm1 1h3v1h-3zM690 144h4v1h-4zm-1 1h6v1h-6zm-1 1h2v3h-2zm5 0h2v3h-2zm-4 3h6v1h-6zm1 1h3v1h-3zM693 143h4v1h-4zm-1 1h6v1h-6zm-1 1h2v3h-2zm5 0h2v3h-2zm-4 3h6v1h-6zm1 1h3v1h-3zM695 144h4v1h-4zm-1 1h6v1h-6zm-1 1h2v3h-2zm5 0h2v3h-2zm-4 3h6v1h-6zm1 1h3v1h-3zM698 144h4v1h-4zm-1 1h6v1h-6zm-1 1h2v3h-2zm5 0h2v3h-2zm-4 3h6v1h-6zm1 1h3v1h-3zM700 143h4v1h-4zm-1 1h6v1h-6zm-1 1h2v3h-2zm5 0h2v3h-2zm-4 3h6v1h-6zm1 1h3v1h-3zM703 144h4v1h-4zm-1 1h6v1h-6zm-1 1h2v3h-2zm5 0h2v3h-2zm-4 3h6v1h-6zm1 1h3v1h-3zM705 145h4v1h-4zm-1 1h6v1h-6zm-1 1h2v3h-2zm5 0h2v3h-2zm-4 3h6v1h-6zm1 1h3v1h-3zM708 144h4v1h-4zm-1 1h6v1h-6zm-1 1h2v3h-2zm5 0h2v3h-2zm-4 3h6v1h-6zm1 1h3v1h-3zM710 145h4v1h-4zm-1 1h6v1h-6zm-1 1h2v3h-2zm5 0h2v3h-2zm-4 3h6v1h-6zm1 1h3v1h-3zM713 145h4v1h-4zm-1 1h6v1h-6zm-1 1h2v3h-2zm5 0h2v3h-2zm-4 3h6v1h-6zm1 1h3v1h-3zM716 146h4v1h-4zm-1 1h6v1h-6zm-1 1h2v3h-2zm5 0h2v3h-2zm-4 3h6v1h-6zm1 1h3v1h-3zM718 146h4v1h-4zm-1 1h6v1h-6zm-1 1h2v3h-2zm5 0h2v3h-2zm-4 3h6v1h-6zm1 1h3v1h-3zM721 144h4v1h-4zm-1 1h6v1h-6zm-1 1h2v3h-2zm5 0h2v3h-2zm-4 3h6v1h-6zm1 1h3v1h-3zM723 145h4v1h-4zm-1 1h6v1h-6zm-1 1h2v3h-2zm5 0h2v3h-2zm-4 3h6v1h-6zm1 1h3v1h-3zM726 144h4v1h-4zm-1 1h6v1h-6zm-1 1h2v3h-2zm5 0h2v3h-2zm-4 3h6v1h-6zm1 1h3v1h-3zM728 143h4v1h-4zm-1 1h6v1h-6zm-1 1h2v3h-2zm5 0h2v3h-2zm-4 3h6v1h-6zm1 1h3v1h-3zM731 144h4v1h-4zm-1 1h6v1h-6zm-1 1h2v3h-2zm5 0h2v3h-2zm-4 3h6v1h-6zm1 1h3v1h-3zM733 143h4v1h-4zm-1 1h6v1h-6zm-1 1h2v3h-2zm5 0h2v3h-2zm-4 3h6v1h-6zm1 1h3v1h-3zM736 144h4v1h-4zm-1 1h6v1h-6zm-1 1h2v3h-2zm5 0h2v3h-2zm-4 3h6v1h-6zm1 1h3v1h-3zM738 144h4v1h-4zm-1 1h6v1h-6zm-1 1h2v3h-2zm5 0h2v3h-2zm-4 3h6v1h-6zm1 1h3v1h-3zM741 143h4v1h-4zm-1 1h6v1h-6zm-1 1h2v3h-2zm5 0h2v3h-2zm-4 3h6v1h-6zm1 1h3v1h-3zM744 145h4v1h-4zm-1 1h6v1h-6zm-1 1h2v3h-2zm5 0h2v3h-2zm-4 3h6v1h-6zm1 1h3v1h-3zM746 144h4v1h-4zm-1 1h6v1h-6zm-1 1h2v3h-2zm5 0h2v3h-2zm-4 3h6v1h-6zm1 1h3v1h-3zM749 145h4v1h-4zm-1 1h6v1h-6zm-1 1h2v3h-2zm5 0h2v3h-2zm-4 3h6v1h-6zm1 1h3v1h-3zM751 146h4v1h-4zm-1 1h6v1h-6zm-1 1h2v3h-2zm5 0h2v3h-2zm-4 3h6v1h-6zm1 1h3v1h-3zM754 145h4v1h-4zm-1 1h6v1h-6zm-1 1h2v3h-2zm5 0h2v3h-2zm-4 3h6v1h-6zm1 1h3v1h-3zM756 147h4v1h-4zm-1 1h6v1h-6zm-1 1h2v3h-2zm5 0h2v3h-2zm-4 3h6v1h-6zm1 1h3v1h-3zM759 147h4v1h-4zm-1 1h6v1h-6zm-1 1h2v3h-2zm5 0h2v3h-2zm-4 3h6v1h-6zm1 1h3v1h-3zM761 148h4v1h-4zm-1 1h6v1h-6zm-1 1h2v3h-2zm5 0h2v3h-2zm-4 3h6v1h-6zm1 1h3v1h-3zM764 148h4v1h-4zm-1 1h6v1h-6zm-1 1h2v3h-2zm5 0h2v3h-2zm-4 3h6v1h-6zm1 1h3v1h-3zM766 145h4v1h-4zm-1 1h6v1h-6zm-1 1h2v3h-2zm5 0h2v3h-2zm-4 3h6v1h-6zm1 1h3v1h-3zM769 147h4v1h-4zm-1 1h6v1h-6zm-1 1h2v3h-2zm5 0h2v3h-2zm-4 3h6v1h-6zm1 1h3v1h-3zM772 147h4v1h-4zm-1 1h6v1h-6zm-1 1h2v3h-2zm5 0h2v3h-2zm-4 3h6v1h-6zm1 1h3v1h-3zM774 145h4v1h-4zm-1 1h6v1h-6zm-1 1h2v3h-2zm5 0h2v3h-2zm-4 3h6v1h-6zm1 1h3v1h-3zM777 145h4v1h-4zm-1 1h6v1h-6zm-1 1h2v3h-2zm5 0h2v3h-2zm-4 3h6v1h-6zm1 1h3v1h-3zM779 144h4v1h-4zm-1 1h6v1h-6zm-1 1h2v3h-2zm5 0h2v3h-2zm-4 3h6v1h-6zm1 1h3v1h-3zM782 145h4v1h-4zm-1 1h6v1h-6zm-1 1h2v3h-2zm5 0h2v3h-2zm-4 3h6v1h-6zm1 1h3v1h-3zM784 145h4v1h-4zm-1 1h6v1h-6zm-1 1h2v3h-2zm5 0h2v3h-2zm-4 3h6v1h-6zm1 1h3v1h-3zM787 143h4v1h-4zm-1 1h6v1h-6zm-1 1h2v3h-2zm5 0h2v3h-2zm-4 3h6v1h-6zm1 1h3v1h-3zM789 143h4v1h-4zm-1 1h6v1h-6zm-1 1h2v3h-2zm5 0h2v3h-2zm-4 3h6v1h-6zm1 1h3v1h-3zM792 143h4v1h-4zm-1 1h6v1h-6zm-1 1h2v3h-2zm5 0h2v3h-2zm-4 3h6v1h-6zm1 1h3v1h-3zM794 143h4v1h-4zm-1 1h6v1h-6zm-1 1h2v3h-2zm5 0h2v3h-2zm-4 3h6v1h-6zm1 1h3v1h-3zM797 144h4v1h-4zm-1 1h6v1h-6zm-1 1h2v3h-2zm5 0h2v3h-2zm-4 3h6v1h-6zm1 1h3v1h-3zM800 142h4v1h-4zm-1 1h6v1h-6zm-1 1h2v3h-2zm5 0h2v3h-2zm-4 3h6v1h-6zm1 1h3v1h-3zM802 143h4v1h-4zm-1 1h6v1h-6zm-1 1h2v3h-2zm5 0h2v3h-2zm-4 3h6v1h-6zm1 1h3v1h-3zM805 144h4v1h-4zm-1 1h6v1h-6zm-1 1h2v3h-2zm5 0h2v3h-2zm-4 3h6v1h-6zm1 1h3v1h-3zM807 143h4v1h-4zm-1 1h6v1h-6zm-1 1h2v3h-2zm5 0h2v3h-2zm-4 3h6v1h-6zm1 1h3v1h-3zM810 144h4v1h-4zm-1 1h6v1h-6zm-1 1h2v3h-2zm5 0h2v3h-2zm-4 3h6v1h-6zm1 1h3v1h-3zM812 143h4v1h-4zm-1 1h6v1h-6zm-1 1h2v3h-2zm5 0h2v3h-2zm-4 3h6v1h-6zm1 1h3v1h-3zM815 142h4v1h-4zm-1 1h6v1h-6zm-1 1h2v3h-2zm5 0h2v3h-2zm-4 3h6v1h-6zm1 1h3v1h-3zM817 144h4v1h-4zm-1 1h6v1h-6zm-1 1h2v3h-2zm5 0h2v3h-2zm-4 3h6v1h-6zm1 1h3v1h-3zM820 144h4v1h-4zm-1 1h6v1h-6zm-1 1h2v3h-2zm5 0h2v3h-2zm-4 3h6v1h-6zm1 1h3v1h-3zM823 145h4v1h-4zm-1 1h6v1h-6zm-1 1h2v3h-2zm5 0h2v3h-2zm-4 3h6v1h-6zm1 1h3v1h-3zM825 145h4v1h-4zm-1 1h6v1h-6zm-1 1h2v3h-2zm5 0h2v3h-2zm-4 3h6v1h-6zm1 1h3v1h-3zM828 142h4v1h-4zm-1 1h6v1h-6zm-1 1h2v3h-2zm5 0h2v3h-2zm-4 3h6v1h-6zm1 1h3v1h-3zM830 143h4v1h-4zm-1 1h6v1h-6zm-1 1h2v3h-2zm5 0h2v3h-2zm-4 3h6v1h-6zm1 1h3v1h-3zM833 142h4v1h-4zm-1 1h6v1h-6zm-1 1h2v3h-2zm5 0h2v3h-2zm-4 3h6v1h-6zm1 1h3v1h-3zM835 142h4v1h-4zm-1 1h6v1h-6zm-1 1h2v3h-2zm5 0h2v3h-2zm-4 3h6v1h-6zm1 1h3v1h-3zM838 145h4v1h-4zm-1 1h6v1h-6zm-1 1h2v3h-2zm5 0h2v3h-2zm-4 3h6v1h-6zm1 1h3v1h-3zM840 142h4v1h-4zm-1 1h6v1h-6zm-1 1h2v3h-2zm5 0h2v3h-2zm-4 3h6v1h-6zm1 1h3v1h-3zM843 143h4v1h-4zm-1 1h6v1h-6zm-1 1h2v3h-2zm5 0h2v3h-2zm-4 3h6v1h-6zm1 1h3v1h-3zM845 142h4v1h-4zm-1 1h6v1h-6zm-1 1h2v3h-2zm5 0h2v3h-2zm-4 3h6v1h-6zm1 1h3v1h-3zM848 142h4v1h-4zm-1 1h6v1h-6zm-1 1h2v3h-2zm5 0h2v3h-2zm-4 3h6v1h-6zm1 1h3v1h-3zM851 144h4v1h-4zm-1 1h6v1h-6zm-1 1h2v3h-2zm5 0h2v3h-2zm-4 3h6v1h-6zm1 1h3v1h-3zM853 143h4v1h-4zm-1 1h6v1h-6zm-1 1h2v3h-2zm5 0h2v3h-2zm-4 3h6v1h-6zm1 1h3v1h-3zM856 143h4v1h-4zm-1 1h6v1h-6zm-1 1h2v3h-2zm5 0h2v3h-2zm-4 3h6v1h-6zm1 1h3v1h-3zM858 142h4v1h-4zm-1 1h6v1h-6zm-1 1h2v3h-2zm5 0h2v3h-2zm-4 3h6v1h-6zm1 1h3v1h-3zM861 141h4v1h-4zm-1 1h6v1h-6zm-1 1h2v3h-2zm5 0h2v3h-2zm-4 3h6v1h-6zm1 1h3v1h-3zM863 142h4v1h-4zm-1 1h6v1h-6zm-1 1h2v3h-2zm5 0h2v3h-2zm-4 3h6v1h-6zm1 1h3v1h-3zM866 142h4v1h-4zm-1 1h6v1h-6zm-1 1h2v3h-2zm5 0h2v3h-2zm-4 3h6v1h-6zm1 1h3v1h-3zM868 141h4v1h-4zm-1 1h6v1h-6zm-1 1h2v3h-2zm5 0h2v3h-2zm-4 3h6v1h-6zm1 1h3v1h-3zM871 142h4v1h-4zm-1 1h6v1h-6zm-1 1h2v3h-2zm5 0h2v3h-2zm-4 3h6v1h-6zm1 1h3v1h-3zM873 140h4v1h-4zm-1 1h6v1h-6zm-1 1h2v3h-2zm5 0h2v3h-2zm-4 3h6v1h-6zm1 1h3v1h-3zM876 142h4v1h-4zm-1 1h6v1h-6zm-1 1h2v3h-2zm5 0h2v3h-2zm-4 3h6v1h-6zm1 1h3v1h-3zM879 143h4v1h-4zm-1 1h6v1h-6zm-1 1h2v3h-2zm5 0h2v3h-2zm-4 3h6v1h-6zm1 1h3v1h-3zM881 142h4v1h-4zm-1 1h6v1h-6zm-1 1h2v3h-2zm5 0h2v3h-2zm-4 3h6v1h-6zm1 1h3v1h-3zM884 142h4v1h-4zm-1 1h6v1h-6zm-1 1h2v3h-2zm5 0h2v3h-2zm-4 3h6v1h-6zm1 1h3v1h-3zM886 140h4v1h-4zm-1 1h6v1h-6zm-1 1h2v3h-2zm5 0h2v3h-2zm-4 3h6v1h-6zm1 1h3v1h-3zM889 140h4v1h-4zm-1 1h6v1h-6zm-1 1h2v3h-2zm5 0h2v3h-2zm-4 3h6v1h-6zm1 1h3v1h-3zM891 143h4v1h-4zm-1 1h6v1h-6zm-1 1h2v3h-2zm5 0h2v3h-2zm-4 3h6v1h-6zm1 1h3v1h-3zM894 142h4v1h-4zm-1 1h6v1h-6zm-1 1h2v3h-2zm5 0h2v3h-2zm-4 3h6v1h-6zm1 1h3v1h-3zM896 142h4v1h-4zm-1 1h6v1h-6zm-1 1h2v3h-2zm5 0h2v3h-2zm-4 3h6v1h-6zm1 1h3v1h-3zM899 141h4v1h-4zm-1 1h6v1h-6zm-1 1h2v3h-2zm5 0h2v3h-2zm-4 3h6v1h-6zm1 1h3v1h-3zM901 141h4v1h-4zm-1 1h6v1h-6zm-1 1h2v3h-2zm5 0h2v3h-2zm-4 3h6v1h-6zm1 1h3v1h-3zM904 142h4v1h-4zm-1 1h6v1h-6zm-1 1h2v3h-2zm5 0h2v3h-2zm-4 3h6v1h-6zm1 1h3v1h-3z"/>
<g class="ln">
<rect x="510.5" y="56.5" width="410" height="181" fill="none" stroke="#000" stroke-width="1"/>
<rect x="523" y="237" width="1" height="8" fill="#000"/>
<rect x="650" y="237" width="1" height="8" fill="#000"/>
<rect x="778" y="237" width="1" height="8" fill="#000"/>
<rect x="905" y="237" width="1" height="8" fill="#000"/>
<rect x="503" y="58" width="9" height="1" fill="#000"/>
<rect x="503" y="92" width="9" height="1" fill="#000"/>
<rect x="503" y="125" width="9" height="1" fill="#000"/>
<rect x="503" y="159" width="9" height="1" fill="#000"/>
<rect x="503" y="192" width="9" height="1" fill="#000"/>
<rect x="503" y="225" width="9" height="1" fill="#000"/>
<rect x="921" y="237" width="1" height="1" fill="#000"/>
<rect x="510" y="130" width="410" height="1" fill="#000"/>
<rect x="510" y="163" width="410" height="1" fill="#000"/>
<rect x="652" y="56" width="1" height="181" fill="#000"/>
</g>
<text x="523.5" y="262" class="ax" text-anchor="middle">0</text>
<text x="651.5" y="262" class="ax" text-anchor="middle">50</text>
<text x="779.0" y="262" class="ax" text-anchor="middle">100</text>
<text x="906.5" y="262" class="ax" text-anchor="middle">150</text>
<text transform="translate(494,92.5) rotate(-90)" class="ax ry" text-anchor="middle">423.4</text>
<text transform="translate(494,159.5) rotate(-90)" class="ax ry" text-anchor="middle">423.0</text>
<text transform="translate(494,225.5) rotate(-90)" class="ax ry" text-anchor="middle">422.6</text>
<text transform="translate(480,147.5) rotate(-90)" class="ax" text-anchor="middle">approx. ppm</text>
<text x="716.2" y="47" class="ti" text-anchor="middle">All Sample Lines, gas=1 lin=2.01 n=507 (zoomed)</text>
<text x="779" y="192" class="ax" text-anchor="middle" xml:space="preserve">Ave. Slope =  0.01  ppm/min</text>
<text x="778.5" y="216.5" class="ax" text-anchor="middle" xml:space="preserve">Ave. Std. Dev. =  0.21  ppm</text>
<path class="pt" fill="#f00" d="M92 443h4v1h-4zm-1 1h6v1h-6zm-1 1h2v3h-2zm5 0h2v3h-2zm-4 3h6v1h-6zm1 1h3v1h-3zM95 406h4v1h-4zm-1 1h6v1h-6zm-1 1h2v3h-2zm5 0h2v3h-2zm-4 3h6v1h-6zm1 1h3v1h-3zM97 386h4v1h-4zm-1 1h6v1h-6zm-1 1h2v3h-2zm5 0h2v3h-2zm-4 3h6v1h-6zm1 1h3v1h-3zM100 383h4v1h-4zm-1 1h6v1h-6zm-1 1h2v3h-2zm5 0h2v3h-2zm-4 3h6v1h-6zm1 1h3v1h-3zM102 386h4v1h-4zm-1 1h6v1h-6zm-1 1h2v3h-2zm5 0h2v3h-2zm-4 3h6v1h-6zm1 1h3v1h-3zM105 387h4v1h-4zm-1 1h6v1h-6zm-1 1h2v3h-2zm5 0h2v3h-2zm-4 3h6v1h-6zm1 1h3v1h-3zM107 388h4v1h-4zm-1 1h6v1h-6zm-1 1h2v3h-2zm5 0h2v3h-2zm-4 3h6v1h-6zm1 1h3v1h-3zM110 386h4v1h-4zm-1 1h6v1h-6zm-1 1h2v3h-2zm5 0h2v3h-2zm-4 3h6v1h-6zm1 1h3v1h-3zM113 385h4v1h-4zm-1 1h6v1h-6zm-1 1h2v3h-2zm5 0h2v3h-2zm-4 3h6v1h-6zm1 1h3v1h-3zM115 384h4v1h-4zm-1 1h6v1h-6zm-1 1h2v3h-2zm5 0h2v3h-2zm-4 3h6v1h-6zm1 1h3v1h-3zM118 383h4v1h-4zm-1 1h6v1h-6zm-1 1h2v3h-2zm5 0h2v3h-2zm-4 3h6v1h-6zm1 1h3v1h-3zM120 384h3v1h-3zm-1 1h5v1h-5zm-1 1h3v1h-3zm4 0h3v1h-3zm-4 1h2v1h-2zm5 0h2v1h-2zm-5 1h3v1h-3zm4 0h3v1h-3zm-3 1h5v1h-5zm1 1h3v1h-3zM123 384h3v1h-3zm-1 1h5v1h-5zm-1 1h3v1h-3zm4 0h3v1h-3zm-4 1h2v1h-2zm5 0h2v1h-2zm-5 1h3v1h-3zm4 0h3v1h-3zm-3 1h5v1h-5zm1 1h3v1h-3zM125 384h3v1h-3zm-1 1h5v1h-5zm-1 1h3v1h-3zm4 0h3v1h-3zm-4 1h2v1h-2zm5 0h2v1h-2zm-5 1h3v1h-3zm4 0h3v1h-3zm-3 1h5v1h-5zm1 1h3v1h-3zM128 383h3v1h-3zm-1 1h5v1h-5zm-1 1h3v1h-3zm4 0h3v1h-3zm-4 1h2v1h-2zm5 0h2v1h-2zm-5 1h3v1h-3zm4 0h3v1h-3zm-3 1h5v1h-5zm1 1h3v1h-3zM130 383h3v1h-3zm-1 1h5v1h-5zm-1 1h3v1h-3zm4 0h3v1h-3zm-4 1h2v1h-2zm5 0h2v1h-2zm-5 1h3v1h-3zm4 0h3v1h-3zm-3 1h5v1h-5zm1 1h3v1h-3zM133 383h3v1h-3zm-1 1h5v1h-5zm-1 1h3v1h-3zm4 0h3v1h-3zm-4 1h2v1h-2zm5 0h2v1h-2zm-5 1h3v1h-3zm4 0h3v1h-3zm-3 1h5v1h-5zm1 1h3v1h-3zM135 383h3v1h-3zm-1 1h5v1h-5zm-1 1h3v1h-3zm4 0h3v1h-3zm-4 1h2v1h-2zm5 0h2v1h-2zm-5 1h3v1h-3zm4 0h3v1h-3zm-3 1h5v1h-5zm1 1h3v1h-3zM138 383h3v1h-3zm-1 1h5v1h-5zm-1 1h3v1h-3zm4 0h3v1h-3zm-4 1h2v1h-2zm5 0h2v1h-2zm-5 1h3v1h-3zm4 0h3v1h-3zm-3 1h5v1h-5zm1 1h3v1h-3zM141 383h3v1h-3zm-1 1h5v1h-5zm-1 1h3v1h-3zm4 0h3v1h-3zm-4 1h2v1h-2zm5 0h2v1h-2zm-5 1h3v1h-3zm4 0h3v1h-3zm-3 1h5v1h-5zm1 1h3v1h-3zM143 383h3v1h-3zm-1 1h5v1h-5zm-1 1h3v1h-3zm4 0h3v1h-3zm-4 1h2v1h-2zm5 0h2v1h-2zm-5 1h3v1h-3zm4 0h3v1h-3zm-3 1h5v1h-5zm1 1h3v1h-3zM146 383h3v1h-3zm-1 1h5v1h-5zm-1 1h3v1h-3zm4 0h3v1h-3zm-4 1h2v1h-2zm5 0h2v1h-2zm-5 1h3v1h-3zm4 0h3v1h-3zm-3 1h5v1h-5zm1 1h3v1h-3zM148 384h3v1h-3zm-1 1h5v1h-5zm-1 1h3v1h-3zm4 0h3v1h-3zm-4 1h2v1h-2zm5 0h2v1h-2zm-5 1h3v1h-3zm4 0h3v1h-3zm-3 1h5v1h-5zm1 1h3v1h-3zM151 384h3v1h-3zm-1 1h5v1h-5zm-1 1h3v1h-3zm4 0h3v1h-3zm-4 1h2v1h-2zm5 0h2v1h-2zm-5 1h3v1h-3zm4 0h3v1h-3zm-3 1h5v1h-5zm1 1h3v1h-3zM153 383h3v1h-3zm-1 1h5v1h-5zm-1 1h3v1h-3zm4 0h3v1h-3zm-4 1h2v1h-2zm5 0h2v1h-2zm-5 1h3v1h-3zm4 0h3v1h-3zm-3 1h5v1h-5zm1 1h3v1h-3zM156 383h3v1h-3zm-1 1h5v1h-5zm-1 1h3v1h-3zm4 0h3v1h-3zm-4 1h2v1h-2zm5 0h2v1h-2zm-5 1h3v1h-3zm4 0h3v1h-3zm-3 1h5v1h-5zm1 1h3v1h-3zM158 383h3v1h-3zm-1 1h5v1h-5zm-1 1h3v1h-3zm4 0h3v1h-3zm-4 1h2v1h-2zm5 0h2v1h-2zm-5 1h3v1h-3zm4 0h3v1h-3zm-3 1h5v1h-5zm1 1h3v1h-3zM161 383h3v1h-3zm-1 1h5v1h-5zm-1 1h3v1h-3zm4 0h3v1h-3zm-4 1h2v1h-2zm5 0h2v1h-2zm-5 1h3v1h-3zm4 0h3v1h-3zm-3 1h5v1h-5zm1 1h3v1h-3zM164 383h3v1h-3zm-1 1h5v1h-5zm-1 1h3v1h-3zm4 0h3v1h-3zm-4 1h2v1h-2zm5 0h2v1h-2zm-5 1h3v1h-3zm4 0h3v1h-3zm-3 1h5v1h-5zm1 1h3v1h-3zM166 384h3v1h-3zm-1 1h5v1h-5zm-1 1h3v1h-3zm4 0h3v1h-3zm-4 1h2v1h-2zm5 0h2v1h-2zm-5 1h3v1h-3zm4 0h3v1h-3zm-3 1h5v1h-5zm1 1h3v1h-3zM169 383h3v1h-3zm-1 1h5v1h-5zm-1 1h3v1h-3zm4 0h3v1h-3zm-4 1h2v1h-2zm5 0h2v1h-2zm-5 1h3v1h-3zm4 0h3v1h-3zm-3 1h5v1h-5zm1 1h3v1h-3zM171 382h3v1h-3zm-1 1h5v1h-5zm-1 1h3v1h-3zm4 0h3v1h-3zm-4 1h2v1h-2zm5 0h2v1h-2zm-5 1h3v1h-3zm4 0h3v1h-3zm-3 1h5v1h-5zm1 1h3v1h-3zM174 383h3v1h-3zm-1 1h5v1h-5zm-1 1h3v1h-3zm4 0h3v1h-3zm-4 1h2v1h-2zm5 0h2v1h-2zm-5 1h3v1h-3zm4 0h3v1h-3zm-3 1h5v1h-5zm1 1h3v1h-3zM176 382h3v1h-3zm-1 1h5v1h-5zm-1 1h3v1h-3zm4 0h3v1h-3zm-4 1h2v1h-2zm5 0h2v1h-2zm-5 1h3v1h-3zm4 0h3v1h-3zm-3 1h5v1h-5zm1 1h3v1h-3zM179 382h3v1h-3zm-1 1h5v1h-5zm-1 1h3v1h-3zm4 0h3v1h-3zm-4 1h2v1h-2zm5 0h2v1h-2zm-5 1h3v1h-3zm4 0h3v1h-3zm-3 1h5v1h-5zm1 1h3v1h-3zM181 382h3v1h-3zm-1 1h5v1h-5zm-1 1h3v1h-3zm4 0h3v1h-3zm-4 1h2v1h-2zm5 0h2v1h-2zm-5 1h3v1h-3zm4 0h3v1h-3zm-3 1h5v1h-5zm1 1h3v1h-3zM184 383h3v1h-3zm-1 1h5v1h-5zm-1 1h3v1h-3zm4 0h3v1h-3zm-4 1h2v1h-2zm5 0h2v1h-2zm-5 1h3v1h-3zm4 0h3v1h-3zm-3 1h5v1h-5zm1 1h3v1h-3zM186 382h3v1h-3zm-1 1h5v1h-5zm-1 1h3v1h-3zm4 0h3v1h-3zm-4 1h2v1h-2zm5 0h2v1h-2zm-5 1h3v1h-3zm4 0h3v1h-3zm-3 1h5v1h-5zm1 1h3v1h-3zM189 382h3v1h-3zm-1 1h5v1h-5zm-1 1h3v1h-3zm4 0h3v1h-3zm-4 1h2v1h-2zm5 0h2v1h-2zm-5 1h3v1h-3zm4 0h3v1h-3zm-3 1h5v1h-5zm1 1h3v1h-3zM192 383h3v1h-3zm-1 1h5v1h-5zm-1 1h3v1h-3zm4 0h3v1h-3zm-4 1h2v1h-2zm5 0h2v1h-2zm-5 1h3v1h-3zm4 0h3v1h-3zm-3 1h5v1h-5zm1 1h3v1h-3zM194 383h3v1h-3zm-1 1h5v1h-5zm-1 1h3v1h-3zm4 0h3v1h-3zm-4 1h2v1h-2zm5 0h2v1h-2zm-5 1h3v1h-3zm4 0h3v1h-3zm-3 1h5v1h-5zm1 1h3v1h-3zM197 383h3v1h-3zm-1 1h5v1h-5zm-1 1h3v1h-3zm4 0h3v1h-3zm-4 1h2v1h-2zm5 0h2v1h-2zm-5 1h3v1h-3zm4 0h3v1h-3zm-3 1h5v1h-5zm1 1h3v1h-3zM199 383h3v1h-3zm-1 1h5v1h-5zm-1 1h3v1h-3zm4 0h3v1h-3zm-4 1h2v1h-2zm5 0h2v1h-2zm-5 1h3v1h-3zm4 0h3v1h-3zm-3 1h5v1h-5zm1 1h3v1h-3zM202 383h3v1h-3zm-1 1h5v1h-5zm-1 1h3v1h-3zm4 0h3v1h-3zm-4 1h2v1h-2zm5 0h2v1h-2zm-5 1h3v1h-3zm4 0h3v1h-3zm-3 1h5v1h-5zm1 1h3v1h-3zM204 383h3v1h-3zm-1 1h5v1h-5zm-1 1h3v1h-3zm4 0h3v1h-3zm-4 1h2v1h-2zm5 0h2v1h-2zm-5 1h3v1h-3zm4 0h3v1h-3zm-3 1h5v1h-5zm1 1h3v1h-3zM207 383h3v1h-3zm-1 1h5v1h-5zm-1 1h3v1h-3zm4 0h3v1h-3zm-4 1h2v1h-2zm5 0h2v1h-2zm-5 1h3v1h-3zm4 0h3v1h-3zm-3 1h5v1h-5zm1 1h3v1h-3zM209 382h3v1h-3zm-1 1h5v1h-5zm-1 1h3v1h-3zm4 0h3v1h-3zm-4 1h2v1h-2zm5 0h2v1h-2zm-5 1h3v1h-3zm4 0h3v1h-3zm-3 1h5v1h-5zm1 1h3v1h-3zM212 383h3v1h-3zm-1 1h5v1h-5zm-1 1h3v1h-3zm4 0h3v1h-3zm-4 1h2v1h-2zm5 0h2v1h-2zm-5 1h3v1h-3zm4 0h3v1h-3zm-3 1h5v1h-5zm1 1h3v1h-3zM214 383h3v1h-3zm-1 1h5v1h-5zm-1 1h3v1h-3zm4 0h3v1h-3zm-4 1h2v1h-2zm5 0h2v1h-2zm-5 1h3v1h-3zm4 0h3v1h-3zm-3 1h5v1h-5zm1 1h3v1h-3zM217 383h3v1h-3zm-1 1h5v1h-5zm-1 1h3v1h-3zm4 0h3v1h-3zm-4 1h2v1h-2zm5 0h2v1h-2zm-5 1h3v1h-3zm4 0h3v1h-3zm-3 1h5v1h-5zm1 1h3v1h-3zM220 383h3v1h-3zm-1 1h5v1h-5zm-1 1h3v1h-3zm4 0h3v1h-3zm-4 1h2v1h-2zm5 0h2v1h-2zm-5 1h3v1h-3zm4 0h3v1h-3zm-3 1h5v1h-5zm1 1h3v1h-3zM222 382h3v1h-3zm-1 1h5v1h-5zm-1 1h3v1h-3zm4 0h3v1h-3zm-4 1h2v1h-2zm5 0h2v1h-2zm-5 1h3v1h-3zm4 0h3v1h-3zm-3 1h5v1h-5zm1 1h3v1h-3zM225 383h3v1h-3zm-1 1h5v1h-5zm-1 1h3v1h-3zm4 0h3v1h-3zm-4 1h2v1h-2zm5 0h2v1h-2zm-5 1h3v1h-3zm4 0h3v1h-3zm-3 1h5v1h-5zm1 1h3v1h-3zM227 383h3v1h-3zm-1 1h5v1h-5zm-1 1h3v1h-3zm4 0h3v1h-3zm-4 1h2v1h-2zm5 0h2v1h-2zm-5 1h3v1h-3zm4 0h3v1h-3zm-3 1h5v1h-5zm1 1h3v1h-3zM230 382h3v1h-3zm-1 1h5v1h-5zm-1 1h3v1h-3zm4 0h3v1h-3zm-4 1h2v1h-2zm5 0h2v1h-2zm-5 1h3v1h-3zm4 0h3v1h-3zm-3 1h5v1h-5zm1 1h3v1h-3zM232 382h3v1h-3zm-1 1h5v1h-5zm-1 1h3v1h-3zm4 0h3v1h-3zm-4 1h2v1h-2zm5 0h2v1h-2zm-5 1h3v1h-3zm4 0h3v1h-3zm-3 1h5v1h-5zm1 1h3v1h-3zM235 383h3v1h-3zm-1 1h5v1h-5zm-1 1h3v1h-3zm4 0h3v1h-3zm-4 1h2v1h-2zm5 0h2v1h-2zm-5 1h3v1h-3zm4 0h3v1h-3zm-3 1h5v1h-5zm1 1h3v1h-3zM237 383h3v1h-3zm-1 1h5v1h-5zm-1 1h3v1h-3zm4 0h3v1h-3zm-4 1h2v1h-2zm5 0h2v1h-2zm-5 1h3v1h-3zm4 0h3v1h-3zm-3 1h5v1h-5zm1 1h3v1h-3zM240 382h3v1h-3zm-1 1h5v1h-5zm-1 1h3v1h-3zm4 0h3v1h-3zm-4 1h2v1h-2zm5 0h2v1h-2zm-5 1h3v1h-3zm4 0h3v1h-3zm-3 1h5v1h-5zm1 1h3v1h-3zM242 383h3v1h-3zm-1 1h5v1h-5zm-1 1h3v1h-3zm4 0h3v1h-3zm-4 1h2v1h-2zm5 0h2v1h-2zm-5 1h3v1h-3zm4 0h3v1h-3zm-3 1h5v1h-5zm1 1h3v1h-3zM245 383h3v1h-3zm-1 1h5v1h-5zm-1 1h3v1h-3zm4 0h3v1h-3zm-4 1h2v1h-2zm5 0h2v1h-2zm-5 1h3v1h-3zm4 0h3v1h-3zm-3 1h5v1h-5zm1 1h3v1h-3zM248 383h3v1h-3zm-1 1h5v1h-5zm-1 1h3v1h-3zm4 0h3v1h-3zm-4 1h2v1h-2zm5 0h2v1h-2zm-5 1h3v1h-3zm4 0h3v1h-3zm-3 1h5v1h-5zm1 1h3v1h-3zM250 383h3v1h-3zm-1 1h5v1h-5zm-1 1h3v1h-3zm4 0h3v1h-3zm-4 1h2v1h-2zm5 0h2v1h-2zm-5 1h3v1h-3zm4 0h3v1h-3zm-3 1h5v1h-5zm1 1h3v1h-3zM253 383h3v1h-3zm-1 1h5v1h-5zm-1 1h3v1h-3zm4 0h3v1h-3zm-4 1h2v1h-2zm5 0h2v1h-2zm-5 1h3v1h-3zm4 0h3v1h-3zm-3 1h5v1h-5zm1 1h3v1h-3zM255 383h3v1h-3zm-1 1h5v1h-5zm-1 1h3v1h-3zm4 0h3v1h-3zm-4 1h2v1h-2zm5 0h2v1h-2zm-5 1h3v1h-3zm4 0h3v1h-3zm-3 1h5v1h-5zm1 1h3v1h-3zM258 383h3v1h-3zm-1 1h5v1h-5zm-1 1h3v1h-3zm4 0h3v1h-3zm-4 1h2v1h-2zm5 0h2v1h-2zm-5 1h3v1h-3zm4 0h3v1h-3zm-3 1h5v1h-5zm1 1h3v1h-3zM260 383h3v1h-3zm-1 1h5v1h-5zm-1 1h3v1h-3zm4 0h3v1h-3zm-4 1h2v1h-2zm5 0h2v1h-2zm-5 1h3v1h-3zm4 0h3v1h-3zm-3 1h5v1h-5zm1 1h3v1h-3zM263 383h3v1h-3zm-1 1h5v1h-5zm-1 1h3v1h-3zm4 0h3v1h-3zm-4 1h2v1h-2zm5 0h2v1h-2zm-5 1h3v1h-3zm4 0h3v1h-3zm-3 1h5v1h-5zm1 1h3v1h-3zM265 383h3v1h-3zm-1 1h5v1h-5zm-1 1h3v1h-3zm4 0h3v1h-3zm-4 1h2v1h-2zm5 0h2v1h-2zm-5 1h3v1h-3zm4 0h3v1h-3zm-3 1h5v1h-5zm1 1h3v1h-3zM268 383h3v1h-3zm-1 1h5v1h-5zm-1 1h3v1h-3zm4 0h3v1h-3zm-4 1h2v1h-2zm5 0h2v1h-2zm-5 1h3v1h-3zm4 0h3v1h-3zm-3 1h5v1h-5zm1 1h3v1h-3zM270 382h3v1h-3zm-1 1h5v1h-5zm-1 1h3v1h-3zm4 0h3v1h-3zm-4 1h2v1h-2zm5 0h2v1h-2zm-5 1h3v1h-3zm4 0h3v1h-3zm-3 1h5v1h-5zm1 1h3v1h-3zM273 383h3v1h-3zm-1 1h5v1h-5zm-1 1h3v1h-3zm4 0h3v1h-3zm-4 1h2v1h-2zm5 0h2v1h-2zm-5 1h3v1h-3zm4 0h3v1h-3zm-3 1h5v1h-5zm1 1h3v1h-3zM276 383h3v1h-3zm-1 1h5v1h-5zm-1 1h3v1h-3zm4 0h3v1h-3zm-4 1h2v1h-2zm5 0h2v1h-2zm-5 1h3v1h-3zm4 0h3v1h-3zm-3 1h5v1h-5zm1 1h3v1h-3zM278 383h3v1h-3zm-1 1h5v1h-5zm-1 1h3v1h-3zm4 0h3v1h-3zm-4 1h2v1h-2zm5 0h2v1h-2zm-5 1h3v1h-3zm4 0h3v1h-3zm-3 1h5v1h-5zm1 1h3v1h-3zM281 383h3v1h-3zm-1 1h5v1h-5zm-1 1h3v1h-3zm4 0h3v1h-3zm-4 1h2v1h-2zm5 0h2v1h-2zm-5 1h3v1h-3zm4 0h3v1h-3zm-3 1h5v1h-5zm1 1h3v1h-3zM283 382h3v1h-3zm-1 1h5v1h-5zm-1 1h3v1h-3zm4 0h3v1h-3zm-4 1h2v1h-2zm5 0h2v1h-2zm-5 1h3v1h-3zm4 0h3v1h-3zm-3 1h5v1h-5zm1 1h3v1h-3zM286 383h3v1h-3zm-1 1h5v1h-5zm-1 1h3v1h-3zm4 0h3v1h-3zm-4 1h2v1h-2zm5 0h2v1h-2zm-5 1h3v1h-3zm4 0h3v1h-3zm-3 1h5v1h-5zm1 1h3v1h-3zM288 383h3v1h-3zm-1 1h5v1h-5zm-1 1h3v1h-3zm4 0h3v1h-3zm-4 1h2v1h-2zm5 0h2v1h-2zm-5 1h3v1h-3zm4 0h3v1h-3zm-3 1h5v1h-5zm1 1h3v1h-3zM291 383h3v1h-3zm-1 1h5v1h-5zm-1 1h3v1h-3zm4 0h3v1h-3zm-4 1h2v1h-2zm5 0h2v1h-2zm-5 1h3v1h-3zm4 0h3v1h-3zm-3 1h5v1h-5zm1 1h3v1h-3zM293 383h3v1h-3zm-1 1h5v1h-5zm-1 1h3v1h-3zm4 0h3v1h-3zm-4 1h2v1h-2zm5 0h2v1h-2zm-5 1h3v1h-3zm4 0h3v1h-3zm-3 1h5v1h-5zm1 1h3v1h-3zM296 383h3v1h-3zm-1 1h5v1h-5zm-1 1h3v1h-3zm4 0h3v1h-3zm-4 1h2v1h-2zm5 0h2v1h-2zm-5 1h3v1h-3zm4 0h3v1h-3zm-3 1h5v1h-5zm1 1h3v1h-3zM298 383h3v1h-3zm-1 1h5v1h-5zm-1 1h3v1h-3zm4 0h3v1h-3zm-4 1h2v1h-2zm5 0h2v1h-2zm-5 1h3v1h-3zm4 0h3v1h-3zm-3 1h5v1h-5zm1 1h3v1h-3zM301 383h3v1h-3zm-1 1h5v1h-5zm-1 1h3v1h-3zm4 0h3v1h-3zm-4 1h2v1h-2zm5 0h2v1h-2zm-5 1h3v1h-3zm4 0h3v1h-3zm-3 1h5v1h-5zm1 1h3v1h-3zM304 382h3v1h-3zm-1 1h5v1h-5zm-1 1h3v1h-3zm4 0h3v1h-3zm-4 1h2v1h-2zm5 0h2v1h-2zm-5 1h3v1h-3zm4 0h3v1h-3zm-3 1h5v1h-5zm1 1h3v1h-3zM306 382h3v1h-3zm-1 1h5v1h-5zm-1 1h3v1h-3zm4 0h3v1h-3zm-4 1h2v1h-2zm5 0h2v1h-2zm-5 1h3v1h-3zm4 0h3v1h-3zm-3 1h5v1h-5zm1 1h3v1h-3zM309 383h3v1h-3zm-1 1h5v1h-5zm-1 1h3v1h-3zm4 0h3v1h-3zm-4 1h2v1h-2zm5 0h2v1h-2zm-5 1h3v1h-3zm4 0h3v1h-3zm-3 1h5v1h-5zm1 1h3v1h-3zM311 382h3v1h-3zm-1 1h5v1h-5zm-1 1h3v1h-3zm4 0h3v1h-3zm-4 1h2v1h-2zm5 0h2v1h-2zm-5 1h3v1h-3zm4 0h3v1h-3zm-3 1h5v1h-5zm1 1h3v1h-3zM314 382h3v1h-3zm-1 1h5v1h-5zm-1 1h3v1h-3zm4 0h3v1h-3zm-4 1h2v1h-2zm5 0h2v1h-2zm-5 1h3v1h-3zm4 0h3v1h-3zm-3 1h5v1h-5zm1 1h3v1h-3zM316 382h3v1h-3zm-1 1h5v1h-5zm-1 1h3v1h-3zm4 0h3v1h-3zm-4 1h2v1h-2zm5 0h2v1h-2zm-5 1h3v1h-3zm4 0h3v1h-3zm-3 1h5v1h-5zm1 1h3v1h-3zM319 382h3v1h-3zm-1 1h5v1h-5zm-1 1h3v1h-3zm4 0h3v1h-3zm-4 1h2v1h-2zm5 0h2v1h-2zm-5 1h3v1h-3zm4 0h3v1h-3zm-3 1h5v1h-5zm1 1h3v1h-3zM321 382h3v1h-3zm-1 1h5v1h-5zm-1 1h3v1h-3zm4 0h3v1h-3zm-4 1h2v1h-2zm5 0h2v1h-2zm-5 1h3v1h-3zm4 0h3v1h-3zm-3 1h5v1h-5zm1 1h3v1h-3zM324 383h3v1h-3zm-1 1h5v1h-5zm-1 1h3v1h-3zm4 0h3v1h-3zm-4 1h2v1h-2zm5 0h2v1h-2zm-5 1h3v1h-3zm4 0h3v1h-3zm-3 1h5v1h-5zm1 1h3v1h-3zM326 383h3v1h-3zm-1 1h5v1h-5zm-1 1h3v1h-3zm4 0h3v1h-3zm-4 1h2v1h-2zm5 0h2v1h-2zm-5 1h3v1h-3zm4 0h3v1h-3zm-3 1h5v1h-5zm1 1h3v1h-3zM329 382h3v1h-3zm-1 1h5v1h-5zm-1 1h3v1h-3zm4 0h3v1h-3zm-4 1h2v1h-2zm5 0h2v1h-2zm-5 1h3v1h-3zm4 0h3v1h-3zm-3 1h5v1h-5zm1 1h3v1h-3zM332 382h3v1h-3zm-1 1h5v1h-5zm-1 1h3v1h-3zm4 0h3v1h-3zm-4 1h2v1h-2zm5 0h2v1h-2zm-5 1h3v1h-3zm4 0h3v1h-3zm-3 1h5v1h-5zm1 1h3v1h-3zM334 382h3v1h-3zm-1 1h5v1h-5zm-1 1h3v1h-3zm4 0h3v1h-3zm-4 1h2v1h-2zm5 0h2v1h-2zm-5 1h3v1h-3zm4 0h3v1h-3zm-3 1h5v1h-5zm1 1h3v1h-3zM337 381h3v1h-3zm-1 1h5v1h-5zm-1 1h3v1h-3zm4 0h3v1h-3zm-4 1h2v1h-2zm5 0h2v1h-2zm-5 1h3v1h-3zm4 0h3v1h-3zm-3 1h5v1h-5zm1 1h3v1h-3zM339 382h3v1h-3zm-1 1h5v1h-5zm-1 1h3v1h-3zm4 0h3v1h-3zm-4 1h2v1h-2zm5 0h2v1h-2zm-5 1h3v1h-3zm4 0h3v1h-3zm-3 1h5v1h-5zm1 1h3v1h-3zM342 383h3v1h-3zm-1 1h5v1h-5zm-1 1h3v1h-3zm4 0h3v1h-3zm-4 1h2v1h-2zm5 0h2v1h-2zm-5 1h3v1h-3zm4 0h3v1h-3zm-3 1h5v1h-5zm1 1h3v1h-3zM344 383h3v1h-3zm-1 1h5v1h-5zm-1 1h3v1h-3zm4 0h3v1h-3zm-4 1h2v1h-2zm5 0h2v1h-2zm-5 1h3v1h-3zm4 0h3v1h-3zm-3 1h5v1h-5zm1 1h3v1h-3zM347 383h3v1h-3zm-1 1h5v1h-5zm-1 1h3v1h-3zm4 0h3v1h-3zm-4 1h2v1h-2zm5 0h2v1h-2zm-5 1h3v1h-3zm4 0h3v1h-3zm-3 1h5v1h-5zm1 1h3v1h-3zM349 382h3v1h-3zm-1 1h5v1h-5zm-1 1h3v1h-3zm4 0h3v1h-3zm-4 1h2v1h-2zm5 0h2v1h-2zm-5 1h3v1h-3zm4 0h3v1h-3zm-3 1h5v1h-5zm1 1h3v1h-3zM352 382h3v1h-3zm-1 1h5v1h-5zm-1 1h3v1h-3zm4 0h3v1h-3zm-4 1h2v1h-2zm5 0h2v1h-2zm-5 1h3v1h-3zm4 0h3v1h-3zm-3 1h5v1h-5zm1 1h3v1h-3zM355 382h3v1h-3zm-1 1h5v1h-5zm-1 1h3v1h-3zm4 0h3v1h-3zm-4 1h2v1h-2zm5 0h2v1h-2zm-5 1h3v1h-3zm4 0h3v1h-3zm-3 1h5v1h-5zm1 1h3v1h-3zM357 382h3v1h-3zm-1 1h5v1h-5zm-1 1h3v1h-3zm4 0h3v1h-3zm-4 1h2v1h-2zm5 0h2v1h-2zm-5 1h3v1h-3zm4 0h3v1h-3zm-3 1h5v1h-5zm1 1h3v1h-3zM360 382h3v1h-3zm-1 1h5v1h-5zm-1 1h3v1h-3zm4 0h3v1h-3zm-4 1h2v1h-2zm5 0h2v1h-2zm-5 1h3v1h-3zm4 0h3v1h-3zm-3 1h5v1h-5zm1 1h3v1h-3zM362 382h3v1h-3zm-1 1h5v1h-5zm-1 1h3v1h-3zm4 0h3v1h-3zm-4 1h2v1h-2zm5 0h2v1h-2zm-5 1h3v1h-3zm4 0h3v1h-3zm-3 1h5v1h-5zm1 1h3v1h-3zM365 382h3v1h-3zm-1 1h5v1h-5zm-1 1h3v1h-3zm4 0h3v1h-3zm-4 1h2v1h-2zm5 0h2v1h-2zm-5 1h3v1h-3zm4 0h3v1h-3zm-3 1h5v1h-5zm1 1h3v1h-3zM367 382h3v1h-3zm-1 1h5v1h-5zm-1 1h3v1h-3zm4 0h3v1h-3zm-4 1h2v1h-2zm5 0h2v1h-2zm-5 1h3v1h-3zm4 0h3v1h-3zm-3 1h5v1h-5zm1 1h3v1h-3zM370 382h3v1h-3zm-1 1h5v1h-5zm-1 1h3v1h-3zm4 0h3v1h-3zm-4 1h2v1h-2zm5 0h2v1h-2zm-5 1h3v1h-3zm4 0h3v1h-3zm-3 1h5v1h-5zm1 1h3v1h-3zM372 383h3v1h-3zm-1 1h5v1h-5zm-1 1h3v1h-3zm4 0h3v1h-3zm-4 1h2v1h-2zm5 0h2v1h-2zm-5 1h3v1h-3zm4 0h3v1h-3zm-3 1h5v1h-5zm1 1h3v1h-3zM375 382h3v1h-3zm-1 1h5v1h-5zm-1 1h3v1h-3zm4 0h3v1h-3zm-4 1h2v1h-2zm5 0h2v1h-2zm-5 1h3v1h-3zm4 0h3v1h-3zm-3 1h5v1h-5zm1 1h3v1h-3zM377 382h3v1h-3zm-1 1h5v1h-5zm-1 1h3v1h-3zm4 0h3v1h-3zm-4 1h2v1h-2zm5 0h2v1h-2zm-5 1h3v1h-3zm4 0h3v1h-3zm-3 1h5v1h-5zm1 1h3v1h-3zM380 382h3v1h-3zm-1 1h5v1h-5zm-1 1h3v1h-3zm4 0h3v1h-3zm-4 1h2v1h-2zm5 0h2v1h-2zm-5 1h3v1h-3zm4 0h3v1h-3zm-3 1h5v1h-5zm1 1h3v1h-3zM383 382h3v1h-3zm-1 1h5v1h-5zm-1 1h3v1h-3zm4 0h3v1h-3zm-4 1h2v1h-2zm5 0h2v1h-2zm-5 1h3v1h-3zm4 0h3v1h-3zm-3 1h5v1h-5zm1 1h3v1h-3zM385 382h3v1h-3zm-1 1h5v1h-5zm-1 1h3v1h-3zm4 0h3v1h-3zm-4 1h2v1h-2zm5 0h2v1h-2zm-5 1h3v1h-3zm4 0h3v1h-3zm-3 1h5v1h-5zm1 1h3v1h-3zM388 382h3v1h-3zm-1 1h5v1h-5zm-1 1h3v1h-3zm4 0h3v1h-3zm-4 1h2v1h-2zm5 0h2v1h-2zm-5 1h3v1h-3zm4 0h3v1h-3zm-3 1h5v1h-5zm1 1h3v1h-3zM390 382h3v1h-3zm-1 1h5v1h-5zm-1 1h3v1h-3zm4 0h3v1h-3zm-4 1h2v1h-2zm5 0h2v1h-2zm-5 1h3v1h-3zm4 0h3v1h-3zm-3 1h5v1h-5zm1 1h3v1h-3zM393 383h3v1h-3zm-1 1h5v1h-5zm-1 1h3v1h-3zm4 0h3v1h-3zm-4 1h2v1h-2zm5 0h2v1h-2zm-5 1h3v1h-3zm4 0h3v1h-3zm-3 1h5v1h-5zm1 1h3v1h-3zM395 383h3v1h-3zm-1 1h5v1h-5zm-1 1h3v1h-3zm4 0h3v1h-3zm-4 1h2v1h-2zm5 0h2v1h-2zm-5 1h3v1h-3zm4 0h3v1h-3zm-3 1h5v1h-5zm1 1h3v1h-3zM398 382h3v1h-3zm-1 1h5v1h-5zm-1 1h3v1h-3zm4 0h3v1h-3zm-4 1h2v1h-2zm5 0h2v1h-2zm-5 1h3v1h-3zm4 0h3v1h-3zm-3 1h5v1h-5zm1 1h3v1h-3zM400 383h3v1h-3zm-1 1h5v1h-5zm-1 1h3v1h-3zm4 0h3v1h-3zm-4 1h2v1h-2zm5 0h2v1h-2zm-5 1h3v1h-3zm4 0h3v1h-3zm-3 1h5v1h-5zm1 1h3v1h-3zM403 383h3v1h-3zm-1 1h5v1h-5zm-1 1h3v1h-3zm4 0h3v1h-3zm-4 1h2v1h-2zm5 0h2v1h-2zm-5 1h3v1h-3zm4 0h3v1h-3zm-3 1h5v1h-5zm1 1h3v1h-3zM405 382h3v1h-3zm-1 1h5v1h-5zm-1 1h3v1h-3zm4 0h3v1h-3zm-4 1h2v1h-2zm5 0h2v1h-2zm-5 1h3v1h-3zm4 0h3v1h-3zm-3 1h5v1h-5zm1 1h3v1h-3zM408 383h3v1h-3zm-1 1h5v1h-5zm-1 1h3v1h-3zm4 0h3v1h-3zm-4 1h2v1h-2zm5 0h2v1h-2zm-5 1h3v1h-3zm4 0h3v1h-3zm-3 1h5v1h-5zm1 1h3v1h-3zM411 382h3v1h-3zm-1 1h5v1h-5zm-1 1h3v1h-3zm4 0h3v1h-3zm-4 1h2v1h-2zm5 0h2v1h-2zm-5 1h3v1h-3zm4 0h3v1h-3zm-3 1h5v1h-5zm1 1h3v1h-3zM413 382h3v1h-3zm-1 1h5v1h-5zm-1 1h3v1h-3zm4 0h3v1h-3zm-4 1h2v1h-2zm5 0h2v1h-2zm-5 1h3v1h-3zm4 0h3v1h-3zm-3 1h5v1h-5zm1 1h3v1h-3zM416 382h3v1h-3zm-1 1h5v1h-5zm-1 1h3v1h-3zm4 0h3v1h-3zm-4 1h2v1h-2zm5 0h2v1h-2zm-5 1h3v1h-3zm4 0h3v1h-3zm-3 1h5v1h-5zm1 1h3v1h-3zM418 382h3v1h-3zm-1 1h5v1h-5zm-1 1h3v1h-3zm4 0h3v1h-3zm-4 1h2v1h-2zm5 0h2v1h-2zm-5 1h3v1h-3zm4 0h3v1h-3zm-3 1h5v1h-5zm1 1h3v1h-3zM421 382h3v1h-3zm-1 1h5v1h-5zm-1 1h3v1h-3zm4 0h3v1h-3zm-4 1h2v1h-2zm5 0h2v1h-2zm-5 1h3v1h-3zm4 0h3v1h-3zm-3 1h5v1h-5zm1 1h3v1h-3zM423 382h3v1h-3zm-1 1h5v1h-5zm-1 1h3v1h-3zm4 0h3v1h-3zm-4 1h2v1h-2zm5 0h2v1h-2zm-5 1h3v1h-3zm4 0h3v1h-3zm-3 1h5v1h-5zm1 1h3v1h-3zM426 382h3v1h-3zm-1 1h5v1h-5zm-1 1h3v1h-3zm4 0h3v1h-3zm-4 1h2v1h-2zm5 0h2v1h-2zm-5 1h3v1h-3zm4 0h3v1h-3zm-3 1h5v1h-5zm1 1h3v1h-3zM428 382h3v1h-3zm-1 1h5v1h-5zm-1 1h3v1h-3zm4 0h3v1h-3zm-4 1h2v1h-2zm5 0h2v1h-2zm-5 1h3v1h-3zm4 0h3v1h-3zm-3 1h5v1h-5zm1 1h3v1h-3zM431 382h3v1h-3zm-1 1h5v1h-5zm-1 1h3v1h-3zm4 0h3v1h-3zm-4 1h2v1h-2zm5 0h2v1h-2zm-5 1h3v1h-3zm4 0h3v1h-3zm-3 1h5v1h-5zm1 1h3v1h-3zM433 382h3v1h-3zm-1 1h5v1h-5zm-1 1h3v1h-3zm4 0h3v1h-3zm-4 1h2v1h-2zm5 0h2v1h-2zm-5 1h3v1h-3zm4 0h3v1h-3zm-3 1h5v1h-5zm1 1h3v1h-3zM436 382h3v1h-3zm-1 1h5v1h-5zm-1 1h3v1h-3zm4 0h3v1h-3zm-4 1h2v1h-2zm5 0h2v1h-2zm-5 1h3v1h-3zm4 0h3v1h-3zm-3 1h5v1h-5zm1 1h3v1h-3z"/>
<g class="ln">
<rect x="42.5" y="295.5" width="410" height="181" fill="none" stroke="#000" stroke-width="1"/>
<rect x="55" y="476" width="1" height="8" fill="#000"/>
<rect x="182" y="476" width="1" height="8" fill="#000"/>
<rect x="310" y="476" width="1" height="8" fill="#000"/>
<rect x="437" y="476" width="1" height="8" fill="#000"/>
<rect x="35" y="322" width="9" height="1" fill="#000"/>
<rect x="35" y="355" width="9" height="1" fill="#000"/>
<rect x="35" y="389" width="9" height="1" fill="#000"/>
<rect x="35" y="422" width="9" height="1" fill="#000"/>
<rect x="35" y="456" width="9" height="1" fill="#000"/>
<rect x="453" y="476" width="1" height="1" fill="#000"/>
<rect x="42" y="369" width="410" height="1" fill="#000"/>
<rect x="42" y="402" width="410" height="1" fill="#000"/>
<rect x="184" y="295" width="1" height="181" fill="#000"/>
</g>
<text x="55.5" y="501" class="ax" text-anchor="middle">0</text>
<text x="183.5" y="501" class="ax" text-anchor="middle">50</text>
<text x="311.0" y="501" class="ax" text-anchor="middle">100</text>
<text x="438.5" y="501" class="ax" text-anchor="middle">150</text>
<text transform="translate(26,322.5) rotate(-90)" class="ax ry" text-anchor="middle">438</text>
<text transform="translate(26,355.5) rotate(-90)" class="ax ry" text-anchor="middle">436</text>
<text transform="translate(26,389.5) rotate(-90)" class="ax ry" text-anchor="middle">434</text>
<text transform="translate(26,422.5) rotate(-90)" class="ax ry" text-anchor="middle">432</text>
<text transform="translate(26,456.5) rotate(-90)" class="ax ry" text-anchor="middle">430</text>
<text transform="translate(12,386.5) rotate(-90)" class="ax" text-anchor="middle">approx. ppm</text>
<text x="248.2" y="286" class="ti" text-anchor="middle">All Cal. Lines, gas=3.5 lin=1 n=60</text>
<path class="pt" fill="#f00" d="M565 421h4v1h-4zm-1 1h6v1h-6zm-1 1h2v3h-2zm5 0h2v3h-2zm-4 3h6v1h-6zm1 1h3v1h-3zM568 384h4v1h-4zm-1 1h6v1h-6zm-1 1h2v3h-2zm5 0h2v3h-2zm-4 3h6v1h-6zm1 1h3v1h-3zM570 415h4v1h-4zm-1 1h6v1h-6zm-1 1h2v3h-2zm5 0h2v3h-2zm-4 3h6v1h-6zm1 1h3v1h-3zM573 427h4v1h-4zm-1 1h6v1h-6zm-1 1h2v3h-2zm5 0h2v3h-2zm-4 3h6v1h-6zm1 1h3v1h-3zM575 433h4v1h-4zm-1 1h6v1h-6zm-1 1h2v3h-2zm5 0h2v3h-2zm-4 3h6v1h-6zm1 1h3v1h-3zM578 421h4v1h-4zm-1 1h6v1h-6zm-1 1h2v3h-2zm5 0h2v3h-2zm-4 3h6v1h-6zm1 1h3v1h-3zM581 412h4v1h-4zm-1 1h6v1h-6zm-1 1h2v3h-2zm5 0h2v3h-2zm-4 3h6v1h-6zm1 1h3v1h-3zM583 396h4v1h-4zm-1 1h6v1h-6zm-1 1h2v3h-2zm5 0h2v3h-2zm-4 3h6v1h-6zm1 1h3v1h-3zM586 390h4v1h-4zm-1 1h6v1h-6zm-1 1h2v3h-2zm5 0h2v3h-2zm-4 3h6v1h-6zm1 1h3v1h-3zM588 399h4v1h-4zm-1 1h6v1h-6zm-1 1h2v3h-2zm5 0h2v3h-2zm-4 3h6v1h-6zm1 1h3v1h-3zM591 401h4v1h-4zm-1 1h6v1h-6zm-1 1h2v3h-2zm5 0h2v3h-2zm-4 3h6v1h-6zm1 1h3v1h-3zM593 399h4v1h-4zm-1 1h6v1h-6zm-1 1h2v3h-2zm5 0h2v3h-2zm-4 3h6v1h-6zm1 1h3v1h-3zM596 387h4v1h-4zm-1 1h6v1h-6zm-1 1h2v3h-2zm5 0h2v3h-2zm-4 3h6v1h-6zm1 1h3v1h-3zM598 383h4v1h-4zm-1 1h6v1h-6zm-1 1h2v3h-2zm5 0h2v3h-2zm-4 3h6v1h-6zm1 1h3v1h-3zM601 387h4v1h-4zm-1 1h6v1h-6zm-1 1h2v3h-2zm5 0h2v3h-2zm-4 3h6v1h-6zm1 1h3v1h-3zM603 383h4v1h-4zm-1 1h6v1h-6zm-1 1h2v3h-2zm5 0h2v3h-2zm-4 3h6v1h-6zm1 1h3v1h-3zM606 385h4v1h-4zm-1 1h6v1h-6zm-1 1h2v3h-2zm5 0h2v3h-2zm-4 3h6v1h-6zm1 1h3v1h-3zM609 390h4v1h-4zm-1 1h6v1h-6zm-1 1h2v3h-2zm5 0h2v3h-2zm-4 3h6v1h-6zm1 1h3v1h-3zM611 384h4v1h-4zm-1 1h6v1h-6zm-1 1h2v3h-2zm5 0h2v3h-2zm-4 3h6v1h-6zm1 1h3v1h-3zM614 385h4v1h-4zm-1 1h6v1h-6zm-1 1h2v3h-2zm5 0h2v3h-2zm-4 3h6v1h-6zm1 1h3v1h-3zM616 396h4v1h-4zm-1 1h6v1h-6zm-1 1h2v3h-2zm5 0h2v3h-2zm-4 3h6v1h-6zm1 1h3v1h-3zM619 393h4v1h-4zm-1 1h6v1h-6zm-1 1h2v3h-2zm5 0h2v3h-2zm-4 3h6v1h-6zm1 1h3v1h-3zM621 391h4v1h-4zm-1 1h6v1h-6zm-1 1h2v3h-2zm5 0h2v3h-2zm-4 3h6v1h-6zm1 1h3v1h-3zM624 391h4v1h-4zm-1 1h6v1h-6zm-1 1h2v3h-2zm5 0h2v3h-2zm-4 3h6v1h-6zm1 1h3v1h-3zM626 384h4v1h-4zm-1 1h6v1h-6zm-1 1h2v3h-2zm5 0h2v3h-2zm-4 3h6v1h-6zm1 1h3v1h-3zM629 390h4v1h-4zm-1 1h6v1h-6zm-1 1h2v3h-2zm5 0h2v3h-2zm-4 3h6v1h-6zm1 1h3v1h-3zM632 391h4v1h-4zm-1 1h6v1h-6zm-1 1h2v3h-2zm5 0h2v3h-2zm-4 3h6v1h-6zm1 1h3v1h-3zM634 396h4v1h-4zm-1 1h6v1h-6zm-1 1h2v3h-2zm5 0h2v3h-2zm-4 3h6v1h-6zm1 1h3v1h-3zM637 390h4v1h-4zm-1 1h6v1h-6zm-1 1h2v3h-2zm5 0h2v3h-2zm-4 3h6v1h-6zm1 1h3v1h-3zM639 382h4v1h-4zm-1 1h6v1h-6zm-1 1h2v3h-2zm5 0h2v3h-2zm-4 3h6v1h-6zm1 1h3v1h-3zM642 388h4v1h-4zm-1 1h6v1h-6zm-1 1h2v3h-2zm5 0h2v3h-2zm-4 3h6v1h-6zm1 1h3v1h-3zM644 381h4v1h-4zm-1 1h6v1h-6zm-1 1h2v3h-2zm5 0h2v3h-2zm-4 3h6v1h-6zm1 1h3v1h-3zM647 375h4v1h-4zm-1 1h6v1h-6zm-1 1h2v3h-2zm5 0h2v3h-2zm-4 3h6v1h-6zm1 1h3v1h-3zM649 380h4v1h-4zm-1 1h6v1h-6zm-1 1h2v3h-2zm5 0h2v3h-2zm-4 3h6v1h-6zm1 1h3v1h-3zM652 388h4v1h-4zm-1 1h6v1h-6zm-1 1h2v3h-2zm5 0h2v3h-2zm-4 3h6v1h-6zm1 1h3v1h-3zM654 381h4v1h-4zm-1 1h6v1h-6zm-1 1h2v3h-2zm5 0h2v3h-2zm-4 3h6v1h-6zm1 1h3v1h-3zM657 379h4v1h-4zm-1 1h6v1h-6zm-1 1h2v3h-2zm5 0h2v3h-2zm-4 3h6v1h-6zm1 1h3v1h-3zM660 386h4v1h-4zm-1 1h6v1h-6zm-1 1h2v3h-2zm5 0h2v3h-2zm-4 3h6v1h-6zm1 1h3v1h-3zM662 389h4v1h-4zm-1 1h6v1h-6zm-1 1h2v3h-2zm5 0h2v3h-2zm-4 3h6v1h-6zm1 1h3v1h-3zM665 390h4v1h-4zm-1 1h6v1h-6zm-1 1h2v3h-2zm5 0h2v3h-2zm-4 3h6v1h-6zm1 1h3v1h-3zM667 385h4v1h-4zm-1 1h6v1h-6zm-1 1h2v3h-2zm5 0h2v3h-2zm-4 3h6v1h-6zm1 1h3v1h-3zM670 383h4v1h-4zm-1 1h6v1h-6zm-1 1h2v3h-2zm5 0h2v3h-2zm-4 3h6v1h-6zm1 1h3v1h-3zM672 389h4v1h-4zm-1 1h6v1h-6zm-1 1h2v3h-2zm5 0h2v3h-2zm-4 3h6v1h-6zm1 1h3v1h-3zM675 383h4v1h-4zm-1 1h6v1h-6zm-1 1h2v3h-2zm5 0h2v3h-2zm-4 3h6v1h-6zm1 1h3v1h-3zM677 381h4v1h-4zm-1 1h6v1h-6zm-1 1h2v3h-2zm5 0h2v3h-2zm-4 3h6v1h-6zm1 1h3v1h-3zM680 383h4v1h-4zm-1 1h6v1h-6zm-1 1h2v3h-2zm5 0h2v3h-2zm-4 3h6v1h-6zm1 1h3v1h-3zM682 386h4v1h-4zm-1 1h6v1h-6zm-1 1h2v3h-2zm5 0h2v3h-2zm-4 3h6v1h-6zm1 1h3v1h-3zM685 384h4v1h-4zm-1 1h6v1h-6zm-1 1h2v3h-2zm5 0h2v3h-2zm-4 3h6v1h-6zm1 1h3v1h-3zM688 388h4v1h-4zm-1 1h6v1h-6zm-1 1h2v3h-2zm5 0h2v3h-2zm-4 3h6v1h-6zm1 1h3v1h-3zM690 381h4v1h-4zm-1 1h6v1h-6zm-1 1h2v3h-2zm5 0h2v3h-2zm-4 3h6v1h-6zm1 1h3v1h-3zM693 385h4v1h-4zm-1 1h6v1h-6zm-1 1h2v3h-2zm5 0h2v3h-2zm-4 3h6v1h-6zm1 1h3v1h-3zM695 388h4v1h-4zm-1 1h6v1h-6zm-1 1h2v3h-2zm5 0h2v3h-2zm-4 3h6v1h-6zm1 1h3v1h-3zM698 381h4v1h-4zm-1 1h6v1h-6zm-1 1h2v3h-2zm5 0h2v3h-2zm-4 3h6v1h-6zm1 1h3v1h-3zM700 380h4v1h-4zm-1 1h6v1h-6zm-1 1h2v3h-2zm5 0h2v3h-2zm-4 3h6v1h-6zm1 1h3v1h-3zM703 390h4v1h-4zm-1 1h6v1h-6zm-1 1h2v3h-2zm5 0h2v3h-2zm-4 3h6v1h-6zm1 1h3v1h-3zM705 385h4v1h-4zm-1 1h6v1h-6zm-1 1h2v3h-2zm5 0h2v3h-2zm-4 3h6v1h-6zm1 1h3v1h-3zM708 376h4v1h-4zm-1 1h6v1h-6zm-1 1h2v3h-2zm5 0h2v3h-2zm-4 3h6v1h-6zm1 1h3v1h-3zM710 385h4v1h-4zm-1 1h6v1h-6zm-1 1h2v3h-2zm5 0h2v3h-2zm-4 3h6v1h-6zm1 1h3v1h-3zM713 388h4v1h-4zm-1 1h6v1h-6zm-1 1h2v3h-2zm5 0h2v3h-2zm-4 3h6v1h-6zm1 1h3v1h-3zM716 387h4v1h-4zm-1 1h6v1h-6zm-1 1h2v3h-2zm5 0h2v3h-2zm-4 3h6v1h-6zm1 1h3v1h-3zM718 385h4v1h-4zm-1 1h6v1h-6zm-1 1h2v3h-2zm5 0h2v3h-2zm-4 3h6v1h-6zm1 1h3v1h-3zM721 392h4v1h-4zm-1 1h6v1h-6zm-1 1h2v3h-2zm5 0h2v3h-2zm-4 3h6v1h-6zm1 1h3v1h-3zM723 385h4v1h-4zm-1 1h6v1h-6zm-1 1h2v3h-2zm5 0h2v3h-2zm-4 3h6v1h-6zm1 1h3v1h-3zM726 389h4v1h-4zm-1 1h6v1h-6zm-1 1h2v3h-2zm5 0h2v3h-2zm-4 3h6v1h-6zm1 1h3v1h-3zM728 390h4v1h-4zm-1 1h6v1h-6zm-1 1h2v3h-2zm5 0h2v3h-2zm-4 3h6v1h-6zm1 1h3v1h-3zM731 385h4v1h-4zm-1 1h6v1h-6zm-1 1h2v3h-2zm5 0h2v3h-2zm-4 3h6v1h-6zm1 1h3v1h-3zM733 389h4v1h-4zm-1 1h6v1h-6zm-1 1h2v3h-2zm5 0h2v3h-2zm-4 3h6v1h-6zm1 1h3v1h-3zM736 383h4v1h-4zm-1 1h6v1h-6zm-1 1h2v3h-2zm5 0h2v3h-2zm-4 3h6v1h-6zm1 1h3v1h-3zM738 378h4v1h-4zm-1 1h6v1h-6zm-1 1h2v3h-2zm5 0h2v3h-2zm-4 3h6v1h-6zm1 1h3v1h-3zM741 386h4v1h-4zm-1 1h6v1h-6zm-1 1h2v3h-2zm5 0h2v3h-2zm-4 3h6v1h-6zm1 1h3v1h-3zM744 387h4v1h-4zm-1 1h6v1h-6zm-1 1h2v3h-2zm5 0h2v3h-2zm-4 3h6v1h-6zm1 1h3v1h-3zM746 386h4v1h-4zm-1 1h6v1h-6zm-1 1h2v3h-2zm5 0h2v3h-2zm-4 3h6v1h-6zm1 1h3v1h-3zM749 388h4v1h-4zm-1 1h6v1h-6zm-1 1h2v3h-2zm5 0h2v3h-2zm-4 3h6v1h-6zm1 1h3v1h-3zM751 376h4v1h-4zm-1 1h6v1h-6zm-1 1h2v3h-2zm5 0h2v3h-2zm-4 3h6v1h-6zm1 1h3v1h-3zM754 385h4v1h-4zm-1 1h6v1h-6zm-1 1h2v3h-2zm5 0h2v3h-2zm-4 3h6v1h-6zm1 1h3v1h-3zM756 387h4v1h-4zm-1 1h6v1h-6zm-1 1h2v3h-2zm5 0h2v3h-2zm-4 3h6v1h-6zm1 1h3v1h-3zM759 383h4v1h-4zm-1 1h6v1h-6zm-1 1h2v3h-2zm5 0h2v3h-2zm-4 3h6v1h-6zm1 1h3v1h-3zM761 384h4v1h-4zm-1 1h6v1h-6zm-1 1h2v3h-2zm5 0h2v3h-2zm-4 3h6v1h-6zm1 1h3v1h-3zM764 387h4v1h-4zm-1 1h6v1h-6zm-1 1h2v3h-2zm5 0h2v3h-2zm-4 3h6v1h-6zm1 1h3v1h-3zM766 388h4v1h-4zm-1 1h6v1h-6zm-1 1h2v3h-2zm5 0h2v3h-2zm-4 3h6v1h-6zm1 1h3v1h-3zM769 385h4v1h-4zm-1 1h6v1h-6zm-1 1h2v3h-2zm5 0h2v3h-2zm-4 3h6v1h-6zm1 1h3v1h-3zM772 381h4v1h-4zm-1 1h6v1h-6zm-1 1h2v3h-2zm5 0h2v3h-2zm-4 3h6v1h-6zm1 1h3v1h-3zM774 381h4v1h-4zm-1 1h6v1h-6zm-1 1h2v3h-2zm5 0h2v3h-2zm-4 3h6v1h-6zm1 1h3v1h-3zM777 384h4v1h-4zm-1 1h6v1h-6zm-1 1h2v3h-2zm5 0h2v3h-2zm-4 3h6v1h-6zm1 1h3v1h-3zM779 376h4v1h-4zm-1 1h6v1h-6zm-1 1h2v3h-2zm5 0h2v3h-2zm-4 3h6v1h-6zm1 1h3v1h-3zM782 376h4v1h-4zm-1 1h6v1h-6zm-1 1h2v3h-2zm5 0h2v3h-2zm-4 3h6v1h-6zm1 1h3v1h-3zM784 380h4v1h-4zm-1 1h6v1h-6zm-1 1h2v3h-2zm5 0h2v3h-2zm-4 3h6v1h-6zm1 1h3v1h-3zM787 373h4v1h-4zm-1 1h6v1h-6zm-1 1h2v3h-2zm5 0h2v3h-2zm-4 3h6v1h-6zm1 1h3v1h-3zM789 378h4v1h-4zm-1 1h6v1h-6zm-1 1h2v3h-2zm5 0h2v3h-2zm-4 3h6v1h-6zm1 1h3v1h-3zM792 387h4v1h-4zm-1 1h6v1h-6zm-1 1h2v3h-2zm5 0h2v3h-2zm-4 3h6v1h-6zm1 1h3v1h-3zM794 385h4v1h-4zm-1 1h6v1h-6zm-1 1h2v3h-2zm5 0h2v3h-2zm-4 3h6v1h-6zm1 1h3v1h-3zM797 380h4v1h-4zm-1 1h6v1h-6zm-1 1h2v3h-2zm5 0h2v3h-2zm-4 3h6v1h-6zm1 1h3v1h-3zM800 376h4v1h-4zm-1 1h6v1h-6zm-1 1h2v3h-2zm5 0h2v3h-2zm-4 3h6v1h-6zm1 1h3v1h-3zM802 373h4v1h-4zm-1 1h6v1h-6zm-1 1h2v3h-2zm5 0h2v3h-2zm-4 3h6v1h-6zm1 1h3v1h-3zM805 372h4v1h-4zm-1 1h6v1h-6zm-1 1h2v3h-2zm5 0h2v3h-2zm-4 3h6v1h-6zm1 1h3v1h-3zM807 377h4v1h-4zm-1 1h6v1h-6zm-1 1h2v3h-2zm5 0h2v3h-2zm-4 3h6v1h-6zm1 1h3v1h-3zM810 384h4v1h-4zm-1 1h6v1h-6zm-1 1h2v3h-2zm5 0h2v3h-2zm-4 3h6v1h-6zm1 1h3v1h-3zM812 387h4v1h-4zm-1 1h6v1h-6zm-1 1h2v3h-2zm5 0h2v3h-2zm-4 3h6v1h-6zm1 1h3v1h-3zM815 383h4v1h-4zm-1 1h6v1h-6zm-1 1h2v3h-2zm5 0h2v3h-2zm-4 3h6v1h-6zm1 1h3v1h-3zM817 378h4v1h-4zm-1 1h6v1h-6zm-1 1h2v3h-2zm5 0h2v3h-2zm-4 3h6v1h-6zm1 1h3v1h-3zM820 381h4v1h-4zm-1 1h6v1h-6zm-1 1h2v3h-2zm5 0h2v3h-2zm-4 3h6v1h-6zm1 1h3v1h-3zM823 377h4v1h-4zm-1 1h6v1h-6zm-1 1h2v3h-2zm5 0h2v3h-2zm-4 3h6v1h-6zm1 1h3v1h-3zM825 381h4v1h-4zm-1 1h6v1h-6zm-1 1h2v3h-2zm5 0h2v3h-2zm-4 3h6v1h-6zm1 1h3v1h-3zM828 379h4v1h-4zm-1 1h6v1h-6zm-1 1h2v3h-2zm5 0h2v3h-2zm-4 3h6v1h-6zm1 1h3v1h-3zM830 375h4v1h-4zm-1 1h6v1h-6zm-1 1h2v3h-2zm5 0h2v3h-2zm-4 3h6v1h-6zm1 1h3v1h-3zM833 375h4v1h-4zm-1 1h6v1h-6zm-1 1h2v3h-2zm5 0h2v3h-2zm-4 3h6v1h-6zm1 1h3v1h-3zM835 376h4v1h-4zm-1 1h6v1h-6zm-1 1h2v3h-2zm5 0h2v3h-2zm-4 3h6v1h-6zm1 1h3v1h-3zM838 382h4v1h-4zm-1 1h6v1h-6zm-1 1h2v3h-2zm5 0h2v3h-2zm-4 3h6v1h-6zm1 1h3v1h-3zM840 386h4v1h-4zm-1 1h6v1h-6zm-1 1h2v3h-2zm5 0h2v3h-2zm-4 3h6v1h-6zm1 1h3v1h-3zM843 381h4v1h-4zm-1 1h6v1h-6zm-1 1h2v3h-2zm5 0h2v3h-2zm-4 3h6v1h-6zm1 1h3v1h-3zM845 378h4v1h-4zm-1 1h6v1h-6zm-1 1h2v3h-2zm5 0h2v3h-2zm-4 3h6v1h-6zm1 1h3v1h-3zM848 376h4v1h-4zm-1 1h6v1h-6zm-1 1h2v3h-2zm5 0h2v3h-2zm-4 3h6v1h-6zm1 1h3v1h-3zM851 374h4v1h-4zm-1 1h6v1h-6zm-1 1h2v3h-2zm5 0h2v3h-2zm-4 3h6v1h-6zm1 1h3v1h-3zM853 377h4v1h-4zm-1 1h6v1h-6zm-1 1h2v3h-2zm5 0h2v3h-2zm-4 3h6v1h-6zm1 1h3v1h-3zM856 377h4v1h-4zm-1 1h6v1h-6zm-1 1h2v3h-2zm5 0h2v3h-2zm-4 3h6v1h-6zm1 1h3v1h-3zM858 378h4v1h-4zm-1 1h6v1h-6zm-1 1h2v3h-2zm5 0h2v3h-2zm-4 3h6v1h-6zm1 1h3v1h-3zM861 388h4v1h-4zm-1 1h6v1h-6zm-1 1h2v3h-2zm5 0h2v3h-2zm-4 3h6v1h-6zm1 1h3v1h-3zM863 385h4v1h-4zm-1 1h6v1h-6zm-1 1h2v3h-2zm5 0h2v3h-2zm-4 3h6v1h-6zm1 1h3v1h-3zM866 381h4v1h-4zm-1 1h6v1h-6zm-1 1h2v3h-2zm5 0h2v3h-2zm-4 3h6v1h-6zm1 1h3v1h-3zM868 386h4v1h-4zm-1 1h6v1h-6zm-1 1h2v3h-2zm5 0h2v3h-2zm-4 3h6v1h-6zm1 1h3v1h-3zM871 384h4v1h-4zm-1 1h6v1h-6zm-1 1h2v3h-2zm5 0h2v3h-2zm-4 3h6v1h-6zm1 1h3v1h-3zM873 381h4v1h-4zm-1 1h6v1h-6zm-1 1h2v3h-2zm5 0h2v3h-2zm-4 3h6v1h-6zm1 1h3v1h-3zM876 384h4v1h-4zm-1 1h6v1h-6zm-1 1h2v3h-2zm5 0h2v3h-2zm-4 3h6v1h-6zm1 1h3v1h-3zM879 379h4v1h-4zm-1 1h6v1h-6zm-1 1h2v3h-2zm5 0h2v3h-2zm-4 3h6v1h-6zm1 1h3v1h-3zM881 376h4v1h-4zm-1 1h6v1h-6zm-1 1h2v3h-2zm5 0h2v3h-2zm-4 3h6v1h-6zm1 1h3v1h-3zM884 377h4v1h-4zm-1 1h6v1h-6zm-1 1h2v3h-2zm5 0h2v3h-2zm-4 3h6v1h-6zm1 1h3v1h-3zM886 376h4v1h-4zm-1 1h6v1h-6zm-1 1h2v3h-2zm5 0h2v3h-2zm-4 3h6v1h-6zm1 1h3v1h-3zM889 377h4v1h-4zm-1 1h6v1h-6zm-1 1h2v3h-2zm5 0h2v3h-2zm-4 3h6v1h-6zm1 1h3v1h-3zM891 381h4v1h-4zm-1 1h6v1h-6zm-1 1h2v3h-2zm5 0h2v3h-2zm-4 3h6v1h-6zm1 1h3v1h-3zM894 381h4v1h-4zm-1 1h6v1h-6zm-1 1h2v3h-2zm5 0h2v3h-2zm-4 3h6v1h-6zm1 1h3v1h-3zM896 376h4v1h-4zm-1 1h6v1h-6zm-1 1h2v3h-2zm5 0h2v3h-2zm-4 3h6v1h-6zm1 1h3v1h-3zM899 382h4v1h-4zm-1 1h6v1h-6zm-1 1h2v3h-2zm5 0h2v3h-2zm-4 3h6v1h-6zm1 1h3v1h-3zM901 377h4v1h-4zm-1 1h6v1h-6zm-1 1h2v3h-2zm5 0h2v3h-2zm-4 3h6v1h-6zm1 1h3v1h-3zM904 375h4v1h-4zm-1 1h6v1h-6zm-1 1h2v3h-2zm5 0h2v3h-2zm-4 3h6v1h-6zm1 1h3v1h-3z"/>
<g class="ln">
<rect x="510.5" y="295.5" width="410" height="181" fill="none" stroke="#000" stroke-width="1"/>
<rect x="523" y="476" width="1" height="8" fill="#000"/>
<rect x="650" y="476" width="1" height="8" fill="#000"/>
<rect x="778" y="476" width="1" height="8" fill="#000"/>
<rect x="905" y="476" width="1" height="8" fill="#000"/>
<rect x="503" y="320" width="9" height="1" fill="#000"/>
<rect x="503" y="353" width="9" height="1" fill="#000"/>
<rect x="503" y="387" width="9" height="1" fill="#000"/>
<rect x="503" y="420" width="9" height="1" fill="#000"/>
<rect x="503" y="454" width="9" height="1" fill="#000"/>
<rect x="921" y="476" width="1" height="1" fill="#000"/>
<rect x="510" y="369" width="410" height="1" fill="#000"/>
<rect x="510" y="402" width="410" height="1" fill="#000"/>
<rect x="652" y="295" width="1" height="181" fill="#000"/>
</g>
<text x="523.5" y="501" class="ax" text-anchor="middle">0</text>
<text x="651.5" y="501" class="ax" text-anchor="middle">50</text>
<text x="779.0" y="501" class="ax" text-anchor="middle">100</text>
<text x="906.5" y="501" class="ax" text-anchor="middle">150</text>
<text transform="translate(494,320.5) rotate(-90)" class="ax ry" text-anchor="middle">434.6</text>
<text transform="translate(494,387.5) rotate(-90)" class="ax ry" text-anchor="middle">434.2</text>
<text transform="translate(494,454.5) rotate(-90)" class="ax ry" text-anchor="middle">433.8</text>
<text transform="translate(480,386.5) rotate(-90)" class="ax" text-anchor="middle">approx. ppm</text>
<text x="716.2" y="286" class="ti" text-anchor="middle">All Cal. Lines, gas=3.5 lin=1 n=60 (zoomed)</text>
<text x="779" y="431" class="ax" text-anchor="middle" xml:space="preserve">Ave. Slope =  0.04  ppm/min</text>
<text x="467.5" y="18" class="mt" text-anchor="middle" xml:space="preserve">NWR_160107  CO2 Shapes Averaged by Sample or Calibration</text>
<text x="467" y="530" class="mt" text-anchor="middle">Jog Position (1 second resolution)</text>
</svg>
</body></html>
